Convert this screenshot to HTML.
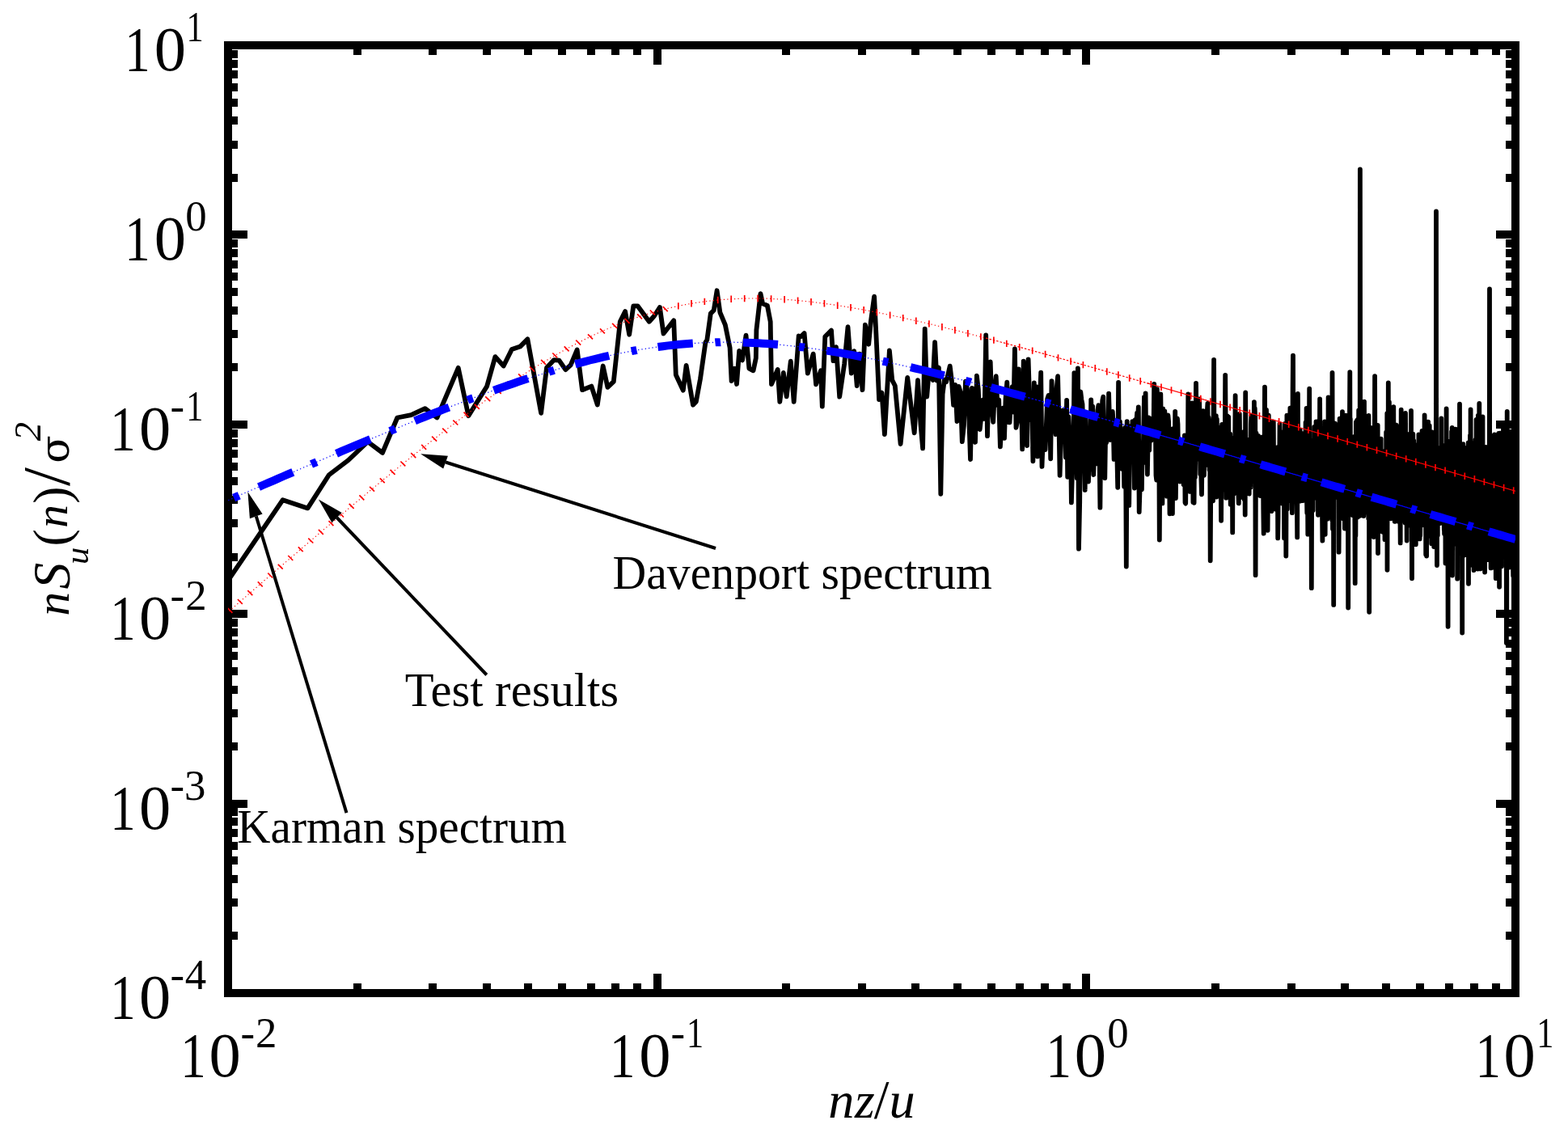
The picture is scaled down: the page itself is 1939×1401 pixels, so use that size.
<!DOCTYPE html>
<html><head><meta charset="utf-8"><title>Spectrum</title><style>html,body{margin:0;padding:0;background:#fff;overflow:hidden}svg{display:block}</style></head><body><svg width="1939" height="1401" viewBox="0 0 1939 1401">
<rect width="1939" height="1401" fill="#fff"/>
<defs><clipPath id="pa"><rect x="282.0" y="56.0" width="1592.0" height="1172.0"/></clipPath></defs>
<rect x="282.0" y="56.0" width="1592.0" height="1172.0" fill="none" stroke="#000" stroke-width="10" shape-rendering="crispEdges"/>
<path d="M441.7 1228L441.7 1216M441.7 56L441.7 68M535.2 1228L535.2 1216M535.2 56L535.2 68M601.5 1228L601.5 1216M601.5 56L601.5 68M652.9 1228L652.9 1216M652.9 56L652.9 68M694.9 1228L694.9 1216M694.9 56L694.9 68M730.5 1228L730.5 1216M730.5 56L730.5 68M761.2 1228L761.2 1216M761.2 56L761.2 68M788.4 1228L788.4 1216M788.4 56L788.4 68M812.7 1228L812.7 1204M812.7 56L812.7 80M972.4 1228L972.4 1216M972.4 56L972.4 68M1065.9 1228L1065.9 1216M1065.9 56L1065.9 68M1132.2 1228L1132.2 1216M1132.2 56L1132.2 68M1183.6 1228L1183.6 1216M1183.6 56L1183.6 68M1225.6 1228L1225.6 1216M1225.6 56L1225.6 68M1261.1 1228L1261.1 1216M1261.1 56L1261.1 68M1291.9 1228L1291.9 1216M1291.9 56L1291.9 68M1319.1 1228L1319.1 1216M1319.1 56L1319.1 68M1343.3 1228L1343.3 1204M1343.3 56L1343.3 80M1503.1 1228L1503.1 1216M1503.1 56L1503.1 68M1596.5 1228L1596.5 1216M1596.5 56L1596.5 68M1662.8 1228L1662.8 1216M1662.8 56L1662.8 68M1714.3 1228L1714.3 1216M1714.3 56L1714.3 68M1756.3 1228L1756.3 1216M1756.3 56L1756.3 68M1791.8 1228L1791.8 1216M1791.8 56L1791.8 68M1822.6 1228L1822.6 1216M1822.6 56L1822.6 68M1849.7 1228L1849.7 1216M1849.7 56L1849.7 68M282 1157.4L294 1157.4M1874 1157.4L1862 1157.4M282 1116.2L294 1116.2M1874 1116.2L1862 1116.2M282 1086.9L294 1086.9M1874 1086.9L1862 1086.9M282 1064.2L294 1064.2M1874 1064.2L1862 1064.2M282 1045.6L294 1045.6M1874 1045.6L1862 1045.6M282 1029.9L294 1029.9M1874 1029.9L1862 1029.9M282 1016.3L294 1016.3M1874 1016.3L1862 1016.3M282 1004.3L294 1004.3M1874 1004.3L1862 1004.3M282 993.6L306 993.6M1874 993.6L1850 993.6M282 923L294 923M1874 923L1862 923M282 881.8L294 881.8M1874 881.8L1862 881.8M282 852.5L294 852.5M1874 852.5L1862 852.5M282 829.8L294 829.8M1874 829.8L1862 829.8M282 811.2L294 811.2M1874 811.2L1862 811.2M282 795.5L294 795.5M1874 795.5L1862 795.5M282 781.9L294 781.9M1874 781.9L1862 781.9M282 769.9L294 769.9M1874 769.9L1862 769.9M282 759.2L306 759.2M1874 759.2L1850 759.2M282 688.6L294 688.6M1874 688.6L1862 688.6M282 647.4L294 647.4M1874 647.4L1862 647.4M282 618.1L294 618.1M1874 618.1L1862 618.1M282 595.4L294 595.4M1874 595.4L1862 595.4M282 576.8L294 576.8M1874 576.8L1862 576.8M282 561.1L294 561.1M1874 561.1L1862 561.1M282 547.5L294 547.5M1874 547.5L1862 547.5M282 535.5L294 535.5M1874 535.5L1862 535.5M282 524.8L306 524.8M1874 524.8L1850 524.8M282 454.2L294 454.2M1874 454.2L1862 454.2M282 413L294 413M1874 413L1862 413M282 383.7L294 383.7M1874 383.7L1862 383.7M282 361L294 361M1874 361L1862 361M282 342.4L294 342.4M1874 342.4L1862 342.4M282 326.7L294 326.7M1874 326.7L1862 326.7M282 313.1L294 313.1M1874 313.1L1862 313.1M282 301.1L294 301.1M1874 301.1L1862 301.1M282 290.4L306 290.4M1874 290.4L1850 290.4M282 219.8L294 219.8M1874 219.8L1862 219.8M282 178.6L294 178.6M1874 178.6L1862 178.6M282 149.3L294 149.3M1874 149.3L1862 149.3M282 126.6L294 126.6M1874 126.6L1862 126.6M282 108L294 108M1874 108L1862 108M282 92.3L294 92.3M1874 92.3L1862 92.3M282 78.7L294 78.7M1874 78.7L1862 78.7M282 66.7L294 66.7M1874 66.7L1862 66.7" stroke="#000" stroke-width="10" fill="none" shape-rendering="crispEdges"/>
<g clip-path="url(#pa)"><path d="M272.4 732L314.4 670.2L349.7 618.2L380.5 628.4L406.8 587.3L430.8 569L454.8 546.2L473 559.9L491.3 516.5L508.4 513.1L525.6 505.1L540.4 516.5L566.7 454.8L579.3 514.2L602.1 477.7L612.4 441.1L622.7 452.5L632.9 432L643.2 428.6L652.4 419.4L669.1 510.8L676 454.8L685.1 445.1L691.4 445.7L699.4 457.1L705.7 451.4L713.7 432.5L720 482.2L731.4 477.6L738.8 500.5L745.7 452.5L751.4 478.8L758.8 471.9L766.8 397.7L773.1 385.1L778.2 413.7L783.3 378.3L788.5 378.3L802.8 397.7L809 390.8L815.9 380L820.5 412.5L833.2 396.3L835.8 463.4L844.8 482.7L848.6 451.8L857 500.7L860.8 496.8L866 468.5L872.4 423.5L874.3 420.3L878.8 387.6L882.7 383.7L886.6 359.3L890.4 386.3L896.8 401.7L902.6 430L904.6 471.1L908.4 455.7L911 475L914.2 433.8L918 445.4L922.5 414.6L926.4 455.7L931.5 458.3L934.8 442.8L935.4 408.1L940.5 363.1L943.1 375.3L948.9 377.9L952.7 397.8L954 475L961.7 457L964.3 496.8L968.8 460.8L972.7 490.4L977.8 446.7L981.7 496.8L987.7 415.4L990.3 416.2L994.6 412L998.8 461.6L1005.7 437.6L1009.1 475.3L1015.1 458.2L1016.8 502.7L1020.3 416.2L1028 408.5L1030.5 446.2L1034 429.1L1038.2 490.7L1044.2 449.6L1048.5 404.2L1052.8 461.6L1056.2 434.2L1059.7 477L1063.1 437.6L1066.5 482.2L1069.9 401.7L1074.2 425.7L1076.8 398.2L1081.1 366.6L1083.6 417.1L1087.1 494.2L1090.5 485.6L1093.9 537L1099.9 433.4L1103.3 470.2L1106.8 477L1113.6 549L1122.2 466.8L1130.7 535.3L1135 470.2L1138.5 525L1141.1 554.4L1143.7 406.7L1146.2 490.6L1148.7 459.6L1151.2 463.2L1153.7 470L1156.1 423.2L1158.5 470.7L1160.9 454.5L1163.3 610.8L1165.6 487.5L1167.9 469.7L1170.2 472.1L1172.5 462.3L1174.7 452.6L1176.9 470.7L1179.1 500.9L1181.3 475.8L1183.5 521L1185.6 477.9L1187.7 484.7L1189.8 546.1L1191.9 526.2L1194 471.7L1196 480.9L1198 507.9L1200 568L1202 480L1204 481.2L1206 546.8L1207.9 464.7L1209.8 481.3L1211.7 531L1213.6 513.4L1215.5 494.3L1217.4 517.9L1219.2 414.5L1221 539.1L1222.9 466.3L1224.7 447.3L1226.5 504.5L1228.2 521.9L1230 482.1L1231.7 465.2L1233.5 501.2L1235.2 494.2L1236.9 552.3L1238.6 526.4L1240.3 504.7L1242 541.9L1243.6 492.2L1245.3 472.6L1246.9 522.1L1248.5 522.4L1250.1 493.6L1251.7 478.2L1253.3 509.5L1254.9 431.3L1256.5 528.8L1258 521.2L1259.6 456.3L1261.1 504.9L1262.7 475.8L1264.2 555.4L1265.7 446.6L1267.2 478.3L1268.7 532.8L1270.1 551L1271.6 444.5L1273.1 491.5L1274.5 519L1276 489.1L1277.4 570.3L1278.8 473.4L1280.2 523.4L1281.6 478.2L1283 564.4L1284.4 507.9L1285.8 498.4L1287.2 460.6L1288.5 576.9L1289.9 540.1L1291.2 540.5L1292.6 556.2L1293.9 525L1295.2 493.2L1296.6 489L1297.9 489.3L1299.2 567.3L1300.5 471.1L1301.7 496.1L1303 504.3L1304.3 522.8L1305.6 537.2L1306.8 478.7L1308.1 465.2L1309.3 515.1L1310.6 587.8L1311.8 546.1L1313 524.8L1314.2 507.4L1315.5 528.6L1316.7 510.2L1317.9 565.4L1319.1 494.9L1320.2 589.8L1321.4 515.3L1322.6 540.5L1323.8 529.4L1324.9 621.4L1326.1 579.7L1327.2 579.9L1328.4 461.2L1329.5 510.8L1330.7 503.3L1331.8 591.1L1332.9 455.3L1334 678.7L1335.2 620.5L1336.3 484.5L1337.4 494.2L1338.5 499.7L1339.5 536.8L1340.6 549.3L1341.7 605.9L1342.8 518.5L1343.9 573.1L1344.9 531.1L1346 595.5L1347.1 555.1L1348.1 580.4L1349.2 494.4L1350.2 520.6L1351.2 502.6L1352.3 587L1353.3 553.4L1354.3 518.4L1355.3 514.4L1356.3 573.4L1357.4 507.5L1358.4 501.1L1359.4 548L1360.4 627.6L1361.4 522L1362.3 513.2L1363.3 495.2L1364.3 490.6L1365.3 551.4L1366.3 591.2L1367.2 531.3L1368.2 547.3L1369.1 536.1L1370.1 537.3L1371.1 486.7L1372 518.6L1372.9 544L1373.9 509.5L1374.8 518.8L1375.8 508.9L1376.7 523.6L1377.6 567.9L1378.5 521.9L1379.4 529.7L1380.4 567.1L1381.3 560.6L1382.2 602.8L1383.1 472.8L1384 569.8L1384.9 521.3L1385.8 541.4L1386.7 569.8L1387.5 579.8L1388.4 578.3L1389.3 543.2L1390.2 601.6L1391.1 528.9L1391.9 533.3L1392.8 700.6L1393.7 521.2L1394.5 624.1L1395.4 578.8L1396.2 624.9L1397.1 537.7L1397.9 526.9L1398.8 545.4L1399.6 568.1L1400.4 521.1L1401.3 554.3L1402.1 538.9L1402.9 603.5L1403.8 519.2L1404.6 581.2L1405.4 520L1406.2 510.3L1407 518.2L1407.8 503.4L1408.7 633.1L1409.5 606.6L1410.3 547.3L1411.1 565.6L1411.9 605.3L1412.6 551.9L1413.4 572.7L1414.2 532.9L1415 491L1415.8 571.6L1416.6 486.4L1417.4 569.8L1418.1 541.8L1418.9 586.5L1419.7 540.4L1420.4 516.5L1421.2 556.8L1422 525.1L1422.7 537.3L1423.5 544.9L1424.2 539.1L1425 537.4L1425.7 516.8L1426.5 537.7L1427.2 474.9L1428 539L1428.7 505.4L1429.5 587.8L1430.2 593.7L1430.9 481.2L1431.7 550.3L1432.4 540.7L1433.1 510.8L1433.8 667.5L1434.6 530.1L1435.3 487.4L1436 536.8L1436.7 540.8L1437.4 622.4L1438.1 505.3L1438.8 569.7L1439.6 574.5L1440.3 508.4L1441 524.6L1441.7 543.9L1442.4 527.9L1443.1 613.7L1443.7 554.9L1444.4 513.4L1445.1 520.9L1445.8 545.4L1446.5 635.3L1447.2 541.6L1447.9 552.6L1448.5 567.4L1449.2 546.6L1449.9 635.1L1450.6 530.2L1451.2 576.7L1451.9 601.5L1452.6 572.2L1453.2 508.8L1453.9 616L1454.6 544.8L1455.2 550.3L1455.9 517.3L1456.5 524.4L1457.2 570.8L1457.8 586.9L1458.5 578.2L1459.1 595.5L1459.8 576.9L1460.4 551.1L1461.1 581.7L1461.7 572.7L1462.4 546.9L1463 577.9L1463.6 599.1L1464.3 559.5L1464.9 538.5L1465.5 621.6L1466.2 622.6L1466.8 543.8L1467.4 548L1468 546.6L1468.7 597.4L1469.3 487.5L1469.9 565.4L1470.5 596.6L1471.1 523.5L1471.7 607.9L1472.4 572.2L1473 533L1473.6 560L1474.2 498.5L1474.8 532.7L1475.4 621L1476 521.3L1476.6 621.8L1477.2 550.2L1477.8 590.3L1478.4 554.9L1479 473.9L1479.6 533.2L1480.2 560.7L1480.8 512.8L1481.4 505.8L1481.9 567.5L1482.5 530.9L1483.1 493.5L1483.7 529.8L1484.3 586.3L1484.9 537.5L1485.4 591.3L1486 611.3L1486.6 556L1487.2 514.2L1487.7 508.1L1488.3 554.1L1488.9 587.8L1489.4 565.2L1490 575.9L1490.6 539.5L1491.1 566.7L1491.7 538.6L1492.3 544L1492.8 509L1493.4 498.9L1493.9 538.6L1494.5 515.9L1495.1 521.4L1495.6 581.1L1496.2 552.6L1496.7 693.3L1497.3 597.8L1497.8 533.6L1498.4 585.5L1498.9 570.1L1499.4 532L1500 619.3L1500.5 528.8L1501.1 444.8L1501.6 586.6L1502.1 534.9L1502.7 612L1503.2 533.8L1503.8 514.2L1504.3 614.5L1504.8 518.3L1505.3 565.6L1505.9 611.1L1506.4 562.6L1506.9 555.5L1507.5 562.3L1508 589.2L1508.5 528.7L1509 581.1L1509.5 580L1510.1 643.8L1510.6 546.6L1511.1 525L1511.6 586.1L1512.1 544.6L1512.6 605.3L1513.2 564.5L1513.7 602.1L1514.2 535.1L1514.7 556.5L1515.2 463.8L1515.7 526.6L1516.2 615.7L1516.7 534.6L1517.2 533.9L1517.7 514.4L1518.2 581.5L1518.7 567.1L1519.2 515.7L1519.7 584.9L1520.2 570.3L1520.7 588.2L1521.2 536.7L1521.7 623.7L1522.2 576L1522.7 556.9L1523.2 541.7L1523.7 552.2L1524.2 658.4L1524.6 551.5L1525.1 600.5L1525.6 582.7L1526.1 610.3L1526.6 591.3L1527.1 559.7L1527.6 489.2L1528 573L1528.5 590.7L1529 568.3L1529.5 582.7L1529.9 544.5L1530.4 548.1L1530.9 526.6L1531.4 611.6L1531.8 622.4L1532.3 544.1L1532.8 512L1533.3 557.3L1533.7 614.9L1534.2 579.9L1534.7 535.6L1535.1 614.6L1535.6 614.7L1536.1 598.7L1536.5 591.9L1537 605.1L1537.4 583.3L1537.9 591.7L1538.4 534L1538.8 617.7L1539.3 572.5L1539.7 636.5L1540.2 485.5L1540.6 589.6L1541.1 599.5L1541.6 551.3L1542 580.8L1542.5 591.4L1542.9 585.4L1543.4 544L1543.8 559.5L1544.3 601.3L1544.7 610.6L1545.1 568.7L1545.6 568L1546 572.5L1546.5 602.4L1546.9 524.6L1547.4 513.9L1547.8 570.1L1548.2 522.7L1548.7 543L1549.1 568.9L1549.6 583.1L1550 524.3L1550.4 594.6L1550.9 497.1L1551.3 585.6L1551.7 504.8L1552.2 516.7L1552.6 711.2L1553 550.7L1553.5 535.6L1553.9 549.3L1554.3 583.2L1554.8 564.7L1555.2 565.7L1555.6 604.4L1556 539L1556.5 548.6L1556.9 546.7L1557.3 608.7L1557.7 602.4L1558.1 613L1558.6 566.1L1559 561.4L1559.4 597.8L1559.8 552.2L1560.2 597.1L1560.7 593.4L1561.1 540.5L1561.5 564.7L1561.9 563.4L1562.3 629.4L1562.7 659.6L1563.1 564.3L1563.6 568.8L1564 478.6L1564.4 575.9L1564.8 568.2L1565.2 526.3L1565.6 596.4L1566 507L1566.4 560.3L1566.8 573.8L1567.2 519.7L1567.6 655.8L1568 606.3L1568.4 514.4L1568.8 513.6L1569.3 590.5L1569.7 568.1L1570.1 521.5L1570.5 557.8L1570.9 565.3L1571.2 564L1571.6 598.8L1572 583.3L1572.4 632.1L1572.8 618.3L1573.2 593.8L1573.6 607.9L1574 616.7L1574.4 605.3L1574.8 521.6L1575.2 600.5L1575.6 572.9L1576 627.3L1576.4 573.8L1576.8 589L1577.1 582.2L1577.5 629.7L1577.9 577L1578.3 560.1L1578.7 581.7L1579.1 553.5L1579.5 576.7L1579.8 570.8L1580.2 665.4L1580.6 638.7L1581 555.1L1581.4 572.6L1581.8 563.4L1582.1 595L1582.5 524.4L1582.9 543.9L1583.3 570.1L1583.6 590.9L1584 569.9L1584.4 551.9L1584.8 537.3L1585.1 589.9L1585.5 622.5L1585.9 583.4L1586.3 578.8L1586.6 587.8L1587 534.5L1587.4 559.9L1587.8 561.7L1588.1 665.6L1588.5 571.3L1588.9 523.8L1589.2 612L1589.6 631.9L1590 562.2L1590.3 687.5L1590.7 582.3L1591.1 600.4L1591.4 513.6L1591.8 629.4L1592.2 554.4L1592.5 617.3L1592.9 576.1L1593.2 557.7L1593.6 567.8L1594 604.8L1594.3 538.8L1594.7 558.5L1595 554.2L1595.4 504.6L1595.8 619.1L1596.1 594L1596.5 573.1L1596.8 614.5L1597.2 535.4L1597.5 571.1L1597.9 634.2L1598.3 608.3L1598.6 484.3L1599 439.6L1599.3 532.4L1599.7 617.4L1600 555.4L1600.4 565.8L1600.7 595.8L1601.1 538.9L1601.4 582.2L1601.8 602.3L1602.1 591.1L1602.5 588.7L1602.8 550.6L1603.2 592.9L1603.5 557.8L1603.9 620.5L1604.2 664.4L1604.5 545.2L1604.9 487L1605.2 558.1L1605.6 588.5L1605.9 611.9L1606.3 613L1606.6 543.8L1606.9 543.4L1607.3 619.7L1607.6 531.4L1608 613.6L1608.3 566.7L1608.6 602.5L1609 600.5L1609.3 603L1609.6 604.6L1610 535.9L1610.3 586.6L1610.7 576.8L1611 587.1L1611.3 619.1L1611.7 565.4L1612 547.5L1612.3 546.9L1612.7 564L1613 602.7L1613.3 543.5L1613.7 616.9L1614 586.9L1614.3 567.7L1614.6 522.5L1615 585.5L1615.3 601L1615.6 504.9L1616 618.4L1616.3 634.2L1616.6 589L1616.9 594.4L1617.3 660.7L1617.6 620L1617.9 540.7L1618.2 576.9L1618.6 571.2L1618.9 571.5L1619.2 480.7L1619.5 603.9L1619.9 551.7L1620.2 583.6L1620.5 572.4L1620.8 608.1L1621.1 566L1621.5 545.5L1621.8 727.2L1622.1 626.7L1622.4 565.2L1622.7 625.5L1623.1 587.5L1623.4 556.6L1623.7 631L1624 544.9L1624.3 613.5L1624.6 558.2L1625 594.2L1625.3 527.9L1625.6 544.3L1625.9 615.6L1626.2 585.4L1626.5 580.4L1626.8 560.9L1627.2 594.5L1627.5 521.5L1627.8 533L1628.1 572.8L1628.4 544.9L1628.7 550.4L1629 576.5L1629.3 573.8L1629.6 570.4L1630 636.8L1630.3 614.4L1630.6 621.9L1630.9 578.6L1631.2 558.9L1631.5 519.6L1631.8 565.5L1632.1 493.5L1632.4 555.8L1632.7 606.3L1633 635.7L1633.3 613.3L1633.6 544.5L1633.9 597.2L1634.2 547.6L1634.5 608.6L1634.8 575.8L1635.1 640.8L1635.4 668.6L1635.7 612.2L1636 660.5L1636.3 586.8L1636.6 567L1636.9 626.4L1637.2 639.8L1637.5 557.8L1637.8 583.6L1638.1 521.3L1638.4 572.7L1638.7 660.8L1639 577.6L1639.3 557.5L1639.6 522.6L1639.9 593.9L1640.2 608.6L1640.5 601.8L1640.8 590.2L1641.1 528.4L1641.4 641.7L1641.7 579.3L1642 575.6L1642.3 606.7L1642.6 491.4L1642.8 579.1L1643.1 576.2L1643.4 594.6L1643.7 627.9L1644 598.1L1644.3 505.4L1644.6 567.9L1644.9 589.2L1645.2 587.2L1645.5 528.6L1645.7 512.7L1646 601.1L1646.3 594.1L1646.6 581.6L1646.9 510.2L1647.2 643L1647.5 461L1647.8 567.4L1648 653.9L1648.3 576.1L1648.6 590.7L1648.9 533.4L1649.2 747.9L1649.5 528.7L1649.7 591.6L1650 587.6L1650.3 539L1650.6 613.3L1650.9 523.7L1651.2 554.6L1651.4 582.1L1651.7 566L1652 599.3L1652.3 614.9L1652.6 571.2L1652.8 560.8L1653.1 561.9L1653.4 568.3L1653.7 611.5L1653.9 574.7L1654.2 597.8L1654.5 580.1L1654.8 548.5L1655.1 613.4L1655.3 540.4L1655.6 682.7L1655.9 634.8L1656.2 538.3L1656.4 582L1656.7 517.6L1657 563L1657.3 521.5L1657.5 569.3L1657.8 561.9L1658.1 589.2L1658.4 638.6L1658.6 594.4L1658.9 607.2L1659.2 582.8L1659.4 574.6L1659.7 549.8L1660 509.1L1660.3 587.5L1660.5 640.6L1660.8 601.4L1661.1 562.7L1661.3 641.4L1661.6 567.1L1661.9 559.3L1662.1 534.3L1662.4 544.9L1662.7 575.2L1662.9 653.6L1663.2 577L1663.5 542.2L1663.7 560.2L1664 576.5L1664.3 513.6L1664.5 590.3L1664.8 609.9L1665.1 597L1665.3 606.6L1665.6 531.7L1665.9 514.4L1666.1 630L1666.4 623.6L1666.7 521.3L1666.9 593.5L1667.2 751.5L1667.4 605.1L1667.7 593.7L1668 565.4L1668.2 593.4L1668.5 592.1L1668.7 584.8L1669 508.5L1669.3 460.1L1669.5 553.5L1669.8 517.8L1670 595.7L1670.3 611.5L1670.6 596.2L1670.8 571.6L1671.1 589.7L1671.3 627.1L1671.6 556.5L1671.9 618.8L1672.1 611.6L1672.4 596.5L1672.6 637L1672.9 557.2L1673.1 619.8L1673.4 548.4L1673.6 555.3L1673.9 542.9L1674.2 603.1L1674.4 548.1L1674.7 589.8L1674.9 539.8L1675.2 624.4L1675.4 650.6L1675.7 721.2L1675.9 644.2L1676.2 607.4L1676.4 662.2L1676.7 591.8L1676.9 521.8L1677.2 639.2L1677.4 583.2L1677.7 544.6L1677.9 560.8L1678.2 519.6L1678.4 581.7L1678.7 543.3L1678.9 639.4L1679.2 611.6L1679.4 518.4L1679.7 524.9L1679.9 565L1680.2 507.3L1680.4 584.5L1680.7 587.4L1680.9 556.4L1681.2 566.1L1681.4 606.4L1681.7 637.8L1681.9 209.5L1682.2 590.7L1682.4 618.7L1682.7 558.2L1682.9 603.7L1683.1 548.9L1683.4 614.6L1683.6 537.1L1683.9 548.8L1684.1 589.6L1684.4 609L1684.6 528.8L1684.9 567.2L1685.1 594.8L1685.3 598L1685.6 554.5L1685.8 593.6L1686.1 579L1686.3 638.1L1686.5 609.4L1686.8 534L1687 496.6L1687.3 594L1687.5 630.8L1687.7 596.6L1688 620.7L1688.2 570.1L1688.5 532.6L1688.7 616.3L1688.9 594.3L1689.2 614.2L1689.4 532L1689.7 597.3L1689.9 564.4L1690.1 618.6L1690.4 566.4L1690.6 565.3L1690.8 566.3L1691.1 634.3L1691.3 592.4L1691.6 559L1691.8 547.8L1692 546.9L1692.3 641.3L1692.5 514L1692.7 555.3L1693 613.4L1693.2 756.8L1693.4 585.5L1693.7 618.6L1693.9 617.8L1694.1 625.5L1694.4 593.6L1694.6 648.4L1694.8 599.5L1695.1 644.8L1695.3 545.9L1695.5 624.9L1695.8 539.4L1696 529.2L1696.2 610.3L1696.5 558.2L1696.7 608.7L1696.9 548L1697.2 648.4L1697.4 594.2L1697.6 545.8L1697.8 600.1L1698.1 624.2L1698.3 561.7L1698.5 612L1698.8 664.1L1699 624.1L1699.2 594.4L1699.4 570.8L1699.7 614.5L1699.9 530.3L1700.1 465.1L1700.4 566.9L1700.6 549.2L1700.8 654.5L1701 600.1L1701.3 553.6L1701.5 546L1701.7 612.5L1701.9 560.5L1702.2 571.2L1702.4 592.4L1702.6 598.8L1702.8 599.2L1703.1 599.9L1703.3 640.4L1703.5 654L1703.7 525.8L1704 684L1704.2 600.8L1704.4 638.8L1704.6 565.4L1704.9 607.7L1705.1 604L1705.3 600.6L1705.5 625.8L1705.7 618.3L1706 554.3L1706.2 592.6L1706.4 621.8L1706.6 620.4L1706.9 583.3L1707.1 585.8L1707.3 591.3L1707.5 550.4L1707.7 542.6L1708 650.7L1708.2 581.1L1708.4 600.7L1708.6 566L1708.8 641.7L1709.1 657.2L1709.3 588.8L1709.5 615.2L1709.7 565.9L1709.9 657.8L1710.1 629.3L1710.4 562.3L1710.6 640.3L1710.8 610.2L1711 612L1711.2 610.2L1711.4 569.9L1711.7 575.5L1711.9 619.3L1712.1 596.4L1712.3 557.9L1712.5 667.2L1712.7 589.8L1713 574.7L1713.2 568.8L1713.4 621.8L1713.6 631.5L1713.8 606.7L1714 627.9L1714.2 534.3L1714.5 583L1714.7 578.8L1714.9 598.7L1715.1 615.1L1715.3 511.1L1715.5 704.8L1715.7 561.7L1715.9 610.3L1716.2 626.8L1716.4 627.6L1716.6 606.8L1716.8 473.4L1717 552.2L1717.2 624.4L1717.4 559.2L1717.6 553.4L1717.9 497.2L1718.1 639.9L1718.3 615.8L1718.5 560.2L1718.7 593.1L1718.9 594.4L1719.1 550.4L1719.3 586.8L1719.5 606.9L1719.7 617L1719.9 641.3L1720.2 599.2L1720.4 578.5L1720.6 611.9L1720.8 571.2L1721 544.3L1721.2 637.1L1721.4 582L1721.6 602.4L1721.8 620.4L1722 550.6L1722.2 620.2L1722.4 613.7L1722.6 594.4L1722.9 611.9L1723.1 565.9L1723.3 503.2L1723.5 586.5L1723.7 559.3L1723.9 628.2L1724.1 607.7L1724.3 575.9L1724.5 600.4L1724.7 644.8L1724.9 637.5L1725.1 611.4L1725.3 613.6L1725.5 587.1L1725.7 593.5L1725.9 619.1L1726.1 594.1L1726.3 609.3L1726.5 550.9L1726.7 526.9L1726.9 525.6L1727.1 580.4L1727.3 644.4L1727.5 639.6L1727.7 556.2L1727.9 532L1728.1 626.4L1728.3 615.2L1728.5 540.2L1728.7 635.5L1729 605.5L1729.2 644.7L1729.4 611.3L1729.6 630L1729.8 610.7L1730 558.5L1730.2 589.8L1730.4 570.5L1730.6 628.1L1730.7 556.8L1730.9 533.4L1731.1 623.2L1731.3 639L1731.5 649.6L1731.7 671.4L1731.9 534.7L1732.1 570L1732.3 576.5L1732.5 599.4L1732.7 506.7L1732.9 600L1733.1 609.7L1733.3 559.1L1733.5 604.4L1733.7 640.9L1733.9 602L1734.1 636.4L1734.3 635L1734.5 614.5L1734.7 613.7L1734.9 584.6L1735.1 642.9L1735.3 580.3L1735.5 570.5L1735.7 624.8L1735.9 569.3L1736.1 615.4L1736.3 636.9L1736.5 603.7L1736.6 604.6L1736.8 632.3L1737 626.8L1737.2 534.2L1737.4 544.2L1737.6 646.6L1737.8 614.6L1738 510.8L1738.2 542.8L1738.4 602.3L1738.6 559L1738.8 617.6L1739 604.3L1739.2 618.4L1739.3 551L1739.5 623L1739.7 668.5L1739.9 567.4L1740.1 646.7L1740.3 635.4L1740.5 624L1740.7 599.5L1740.9 551.7L1741.1 564.2L1741.3 628.3L1741.4 635.7L1741.6 644L1741.8 635.1L1742 633.2L1742.2 583.8L1742.4 550.1L1742.6 609.6L1742.8 619.7L1743 605.6L1743.2 536.6L1743.3 580.3L1743.5 538.5L1743.7 607.8L1743.9 557.3L1744.1 595.9L1744.3 614L1744.5 607.7L1744.7 649.6L1744.8 555.1L1745 508L1745.2 635.4L1745.4 651L1745.6 652L1745.8 613.1L1746 715.3L1746.2 607.7L1746.3 547.2L1746.5 578.9L1746.7 620.6L1746.9 578.7L1747.1 668.6L1747.3 536.7L1747.5 585.2L1747.6 641.6L1747.8 577.6L1748 554.7L1748.2 544.8L1748.4 572.5L1748.6 655.4L1748.7 618.1L1748.9 621.8L1749.1 581.8L1749.3 633L1749.5 608L1749.7 564.3L1749.8 584.9L1750 611.3L1750.2 644.3L1750.4 602.3L1750.6 621.6L1750.8 673.3L1750.9 570L1751.1 550.7L1751.3 638.2L1751.5 619.7L1751.7 600.9L1751.9 613.9L1752 590.8L1752.2 622.5L1752.4 590.6L1752.6 632.2L1752.8 554.1L1752.9 569.7L1753.1 609.1L1753.3 585L1753.5 628.9L1753.7 603.8L1753.8 581.9L1754 612.5L1754.2 582.6L1754.4 537.5L1754.6 556L1754.7 570.8L1754.9 585.4L1755.1 609L1755.3 636.7L1755.5 624.6L1755.6 666.4L1755.8 649.3L1756 598.1L1756.2 662.2L1756.4 646.3L1756.5 586.7L1756.7 616.8L1756.9 643.5L1757.1 614.5L1757.2 640.9L1757.4 619.8L1757.6 630.4L1757.8 593L1758 619.4L1758.1 591L1758.3 629.6L1758.5 532.9L1758.7 618.1L1758.8 649.3L1759 626.5L1759.2 605.9L1759.4 625.2L1759.5 570.2L1759.7 570.8L1759.9 591.6L1760.1 601L1760.2 639.9L1760.4 568.2L1760.6 641.2L1760.8 538.4L1760.9 573L1761.1 606L1761.3 646.7L1761.5 580.8L1761.6 513.5L1761.8 621.7L1762 606.5L1762.2 560.3L1762.3 562L1762.5 577.4L1762.7 611L1762.9 630.3L1763 543.1L1763.2 685.7L1763.4 606.5L1763.5 591.9L1763.7 630.8L1763.9 611.6L1764.1 687.5L1764.2 645.3L1764.4 592.2L1764.6 591.3L1764.8 586.6L1764.9 593.5L1765.1 631.1L1765.3 580.2L1765.4 663.3L1765.6 605.1L1765.8 602.4L1765.9 640.7L1766.1 521.6L1766.3 567.6L1766.5 628.9L1766.6 608.9L1766.8 608.2L1767 622.1L1767.1 582.5L1767.3 601.6L1767.5 549.1L1767.7 526.4L1767.8 652L1768 568.1L1768.2 577.7L1768.3 656.6L1768.5 645.1L1768.7 586.1L1768.8 586L1769 605.8L1769.2 567.3L1769.3 627.8L1769.5 614.1L1769.7 613.6L1769.8 634.9L1770 633.8L1770.2 672.2L1770.4 661.2L1770.5 534.2L1770.7 640.1L1770.9 560.4L1771 546.8L1771.2 633.8L1771.4 578.9L1771.5 596L1771.7 646.2L1771.9 580.8L1772 570.5L1772.2 620.9L1772.4 651.7L1772.5 627.9L1772.7 541.6L1772.9 581.5L1773 603.6L1773.2 676.1L1773.3 640.6L1773.5 639.2L1773.7 651.3L1773.8 596.9L1774 626.7L1774.2 627.1L1774.3 567.5L1774.5 609.8L1774.7 629.7L1774.8 563.1L1775 638.2L1775.2 636.5L1775.3 646L1775.5 576.7L1775.7 614.3L1775.8 660.5L1776 261.5L1776.1 576.3L1776.3 618.5L1776.5 659.5L1776.6 607.9L1776.8 624L1777 699L1777.1 609.7L1777.3 606.6L1777.5 566.9L1777.6 582.3L1777.8 662L1777.9 605.3L1778.1 558.9L1778.3 570.2L1778.4 611.4L1778.6 637.4L1778.7 578.5L1778.9 635.7L1779.1 589.9L1779.2 623.4L1779.4 629.1L1779.6 632.1L1779.7 592.3L1779.9 603.9L1780 628.6L1780.2 554L1780.4 617.1L1780.5 628.8L1780.7 647L1780.8 609.6L1781 603.1L1781.2 616L1781.3 578.7L1781.5 601.9L1781.6 625.1L1781.8 620.8L1782 564.8L1782.1 596.6L1782.3 517.3L1782.4 638.6L1782.6 587.5L1782.8 619.3L1782.9 562.2L1783.1 607.3L1783.2 626.4L1783.4 644.8L1783.5 550.5L1783.7 640L1783.9 603.6L1784 576.5L1784.2 627.4L1784.3 597.8L1784.5 597.8L1784.7 579.7L1784.8 618.8L1785 612.4L1785.1 603.2L1785.3 568.5L1785.4 588.3L1785.6 625L1785.8 655.2L1785.9 609.9L1786.1 660L1786.2 610.7L1786.4 562.7L1786.5 633.1L1786.7 568.3L1786.8 625.3L1787 648.4L1787.2 597.7L1787.3 607.5L1787.5 696.6L1787.6 619.9L1787.8 620.8L1787.9 638.7L1788.1 607.3L1788.2 607.7L1788.4 625L1788.6 505.5L1788.7 660.7L1788.9 564.4L1789 564L1789.2 630.7L1789.3 613.1L1789.5 556.5L1789.6 619.5L1789.8 561.4L1789.9 581.2L1790.1 545.4L1790.3 575.5L1790.4 626.1L1790.6 774.8L1790.7 623.2L1790.9 644.3L1791 610.5L1791.2 583.1L1791.3 600.1L1791.5 669.5L1791.6 613.9L1791.8 623.8L1791.9 608.4L1792.1 621.3L1792.2 627.8L1792.4 612.4L1792.6 605.9L1792.7 578.1L1792.9 575.3L1793 627.1L1793.2 638.9L1793.3 645L1793.5 710.3L1793.6 576.4L1793.8 635L1793.9 634.6L1794.1 546.3L1794.2 641.1L1794.4 633.5L1794.5 671L1794.7 563.2L1794.8 556.4L1795 640.7L1795.1 533.6L1795.3 581L1795.4 565L1795.6 568.6L1795.7 528.9L1795.9 603.2L1796 711.6L1796.2 629.2L1796.3 629.4L1796.5 598.1L1796.6 664.1L1796.8 632.4L1796.9 650.5L1797.1 545.3L1797.2 626.3L1797.4 563.5L1797.5 626.6L1797.7 621.4L1797.8 564.4L1798 620.8L1798.1 654.8L1798.3 632.1L1798.4 635.3L1798.6 576.5L1798.7 584.8L1798.9 565.6L1799 619.7L1799.2 656.3L1799.3 630.3L1799.5 615.2L1799.6 565.5L1799.7 630.7L1799.9 604.8L1800 530.7L1800.2 538.6L1800.3 600.5L1800.5 575.8L1800.6 672.7L1800.8 616.9L1800.9 569.6L1801.1 594.1L1801.2 670.9L1801.4 573.7L1801.5 642.6L1801.7 631.1L1801.8 666.8L1802 634.4L1802.1 598.3L1802.2 715.7L1802.4 618.5L1802.5 649.9L1802.7 613.6L1802.8 684.8L1803 612L1803.1 631.7L1803.3 587.4L1803.4 621L1803.6 617.6L1803.7 622.6L1803.8 648L1804 593.1L1804.1 579.3L1804.3 655.3L1804.4 604.4L1804.6 587.4L1804.7 657L1804.9 644.1L1805 499.6L1805.1 600.6L1805.3 644.5L1805.4 646.3L1805.6 594.8L1805.7 671.6L1805.9 582.4L1806 607.5L1806.2 622.1L1806.3 617.6L1806.4 645.7L1806.6 653.2L1806.7 616.1L1806.9 666.4L1807 587.7L1807.2 608.8L1807.3 677.7L1807.4 621.6L1807.6 655.2L1807.7 599.4L1807.9 606.8L1808 614L1808.2 782.5L1808.3 603.8L1808.4 619.2L1808.6 641.9L1808.7 660.5L1808.9 622.6L1809 641.3L1809.1 650.5L1809.3 571.3L1809.4 549.2L1809.6 675L1809.7 664.8L1809.9 621.1L1810 631.3L1810.1 577.5L1810.3 557.9L1810.4 630.2L1810.6 553.3L1810.7 651L1810.8 589.3L1811 629.5L1811.1 686.5L1811.3 684.9L1811.4 607.7L1811.5 656.5L1811.7 573.8L1811.8 593.7L1812 632.4L1812.1 667.7L1812.2 594.3L1812.4 638.4L1812.5 623.2L1812.7 563.6L1812.8 614L1812.9 671.8L1813.1 615.9L1813.2 637.2L1813.4 648.6L1813.5 587.2L1813.6 662.7L1813.8 672.1L1813.9 675.5L1814.1 665.6L1814.2 599.4L1814.3 594L1814.5 585.1L1814.6 579.7L1814.7 584.7L1814.9 654.6L1815 671L1815.2 591.7L1815.3 648.4L1815.4 563.7L1815.6 605.8L1815.7 575.8L1815.8 547.4L1816 721.8L1816.1 622.9L1816.3 602.1L1816.4 596.9L1816.5 576.2L1816.7 614.5L1816.8 593.5L1816.9 628.7L1817.1 566.3L1817.2 628.2L1817.4 638.1L1817.5 663.7L1817.6 657L1817.8 627L1817.9 589.8L1818 538.3L1818.2 620.2L1818.3 669.8L1818.4 678.4L1818.6 506.4L1818.7 586.6L1818.9 604.9L1819 573.9L1819.1 627.1L1819.3 622L1819.4 597.5L1819.5 619.1L1819.7 549.2L1819.8 577.1L1819.9 580.5L1820.1 652.2L1820.2 547.7L1820.3 611.3L1820.5 648.1L1820.6 618.5L1820.8 649.3L1820.9 591.7L1821 636.2L1821.2 652.7L1821.3 699.2L1821.4 646.6L1821.6 671.2L1821.7 621.6L1821.8 624.7L1822 676.3L1822.1 641.8L1822.2 671.2L1822.4 646.4L1822.5 695.9L1822.6 705.1L1822.8 584.2L1822.9 686.9L1823 637.1L1823.2 638.6L1823.3 617L1823.4 647.2L1823.6 572.2L1823.7 589.6L1823.8 588L1824 632.5L1824.1 654.7L1824.2 648.3L1824.4 635.4L1824.5 596.1L1824.6 543.6L1824.8 636.9L1824.9 627.9L1825 635.3L1825.2 672.9L1825.3 615L1825.4 614.1L1825.6 518.8L1825.7 642.6L1825.8 621.1L1825.9 590L1826.1 636.6L1826.2 576.3L1826.3 599L1826.5 692.1L1826.6 649.6L1826.7 655.8L1826.9 649.6L1827 645.9L1827.1 630.1L1827.3 703.6L1827.4 620.3L1827.5 649.2L1827.7 613.8L1827.8 607.8L1827.9 513.6L1828 536.8L1828.2 677.8L1828.3 675.8L1828.4 604L1828.6 622.2L1828.7 645L1828.8 578.8L1829 685.7L1829.1 576.7L1829.2 591.2L1829.3 498.9L1829.5 676.8L1829.6 625.6L1829.7 680.6L1829.9 578.5L1830 635.5L1830.1 626.3L1830.3 630.7L1830.4 696.7L1830.5 703.4L1830.6 672.2L1830.8 605.8L1830.9 655.2L1831 671.1L1831.2 643.5L1831.3 643.9L1831.4 640.8L1831.5 583.3L1831.7 632.5L1831.8 680.4L1831.9 579.1L1832.1 626.9L1832.2 653.4L1832.3 562.4L1832.4 617.9L1832.6 547.4L1832.7 596.8L1832.8 560.6L1833 583.7L1833.1 602L1833.2 611.7L1833.3 614.9L1833.5 515.3L1833.6 680.1L1833.7 611.7L1833.8 574.6L1834 595.7L1834.1 635.1L1834.2 578.8L1834.4 605.5L1834.5 602.9L1834.6 643.2L1834.7 590.4L1834.9 640.3L1835 636.6L1835.1 617.6L1835.2 668.1L1835.4 625.1L1835.5 571.2L1835.6 635L1835.7 628.9L1835.9 622.7L1836 632.8L1836.1 707.5L1836.2 632.9L1836.4 640.8L1836.5 613.5L1836.6 671L1836.8 622.2L1836.9 588.5L1837 569.5L1837.1 643.5L1837.3 651.2L1837.4 553L1837.5 592.2L1837.6 647.6L1837.8 661.3L1837.9 565.2L1838 606.6L1838.1 654.5L1838.3 600.9L1838.4 604.7L1838.5 600.7L1838.6 566L1838.8 626.9L1838.9 636L1839 561.7L1839.1 628.8L1839.3 664.5L1839.4 632.7L1839.5 658.9L1839.6 600.5L1839.8 673.8L1839.9 589.8L1840 692.1L1840.1 605.2L1840.2 593L1840.4 585.1L1840.5 606.9L1840.6 603.3L1840.7 594.4L1840.9 610.8L1841 649.2L1841.1 657L1841.2 610.5L1841.4 669.5L1841.5 580.6L1841.6 579.2L1841.7 574.6L1841.8 647.2L1842 357.5L1842.1 562.6L1842.2 671.2L1842.3 686.6L1842.5 673.6L1842.6 558.3L1842.7 626.5L1842.8 655.5L1843 629.5L1843.1 552.6L1843.2 610.6L1843.3 549L1843.4 570.2L1843.6 702.4L1843.7 650.3L1843.8 559.6L1843.9 558.1L1844.1 642.5L1844.2 598.6L1844.3 646.8L1844.4 596.9L1844.5 617.2L1844.7 634.9L1844.8 579.4L1844.9 539.2L1845 572.2L1845.1 594.7L1845.3 617.1L1845.4 623.7L1845.5 623.4L1845.6 644.8L1845.8 585.9L1845.9 676L1846 697.6L1846.1 639.6L1846.2 633.3L1846.4 670.9L1846.5 649.7L1846.6 633.4L1846.7 619L1846.8 593L1847 573.5L1847.1 650.4L1847.2 669L1847.3 578.7L1847.4 623.5L1847.6 634.7L1847.7 607.5L1847.8 592.2L1847.9 609L1848 537.3L1848.2 624.1L1848.3 613.6L1848.4 702.2L1848.5 660.4L1848.6 611.3L1848.8 626.7L1848.9 688.1L1849 684.2L1849.1 633.8L1849.2 621.3L1849.3 561.4L1849.5 612.3L1849.6 619.5L1849.7 593.8L1849.8 715.2L1849.9 542L1850.1 621.2L1850.2 642L1850.3 643.1L1850.4 687.5L1850.5 563.8L1850.7 593.4L1850.8 631.1L1850.9 632.4L1851 610L1851.1 592.8L1851.2 665.9L1851.4 579.9L1851.5 601.5L1851.6 678.9L1851.7 689.5L1851.8 658.9L1852 588.6L1852.1 589L1852.2 586.9L1852.3 576.2L1852.4 609L1852.5 673.3L1852.7 636L1852.8 593.5L1852.9 592.5L1853 574.4L1853.1 671.1L1853.2 536L1853.4 637.9L1853.5 562.4L1853.6 579.7L1853.7 560.1L1853.8 662.4L1853.9 624.2L1854.1 725.8L1854.2 580.6L1854.3 578L1854.4 649.2L1854.5 648.2L1854.6 615L1854.8 535.7L1854.9 679.6L1855 648.4L1855.1 642.3L1855.2 600.7L1855.3 650.9L1855.5 602.2L1855.6 629.6L1855.7 619.1L1855.8 672.8L1855.9 606.2L1856 611.8L1856.1 667.4L1856.3 636.1L1856.4 626.6L1856.5 616.5L1856.6 661.9L1856.7 597.8L1856.8 644.8L1857 700.3L1857.1 642.2L1857.2 591.6L1857.3 572.6L1857.4 633.2L1857.5 571.4L1857.6 554.7L1857.8 592.8L1857.9 577.4L1858 659.2L1858.1 561.1L1858.2 684.4L1858.3 593L1858.4 632.2L1858.6 651.9L1858.7 635.9L1858.8 653.7L1858.9 582.2L1859 523.5L1859.1 618.1L1859.2 550.4L1859.4 600.7L1859.5 661.6L1859.6 618.1L1859.7 600.1L1859.8 575.5L1859.9 613.8L1860 619.2L1860.2 554.8L1860.3 638.4L1860.4 578L1860.5 635.7L1860.6 606.5L1860.7 663.3L1860.8 658.5L1861 627.6L1861.1 622.3L1861.2 643.7L1861.3 677.6L1861.4 666.4L1861.5 634.2L1861.6 640L1861.7 685.2L1861.9 553.6L1862 648.4L1862.1 587.4L1862.2 677.7L1862.3 606.4L1862.4 624L1862.5 579.6L1862.6 630.2L1862.8 658.4L1862.9 795L1863 572.2L1863.1 609.9L1863.2 770.3L1863.3 664.4L1863.4 630.3L1863.5 649.7L1863.7 508.9L1863.8 688.9L1863.9 636.9L1864 565.5L1864.1 673.2L1864.2 602.6L1864.3 584.4L1864.4 670.9L1864.5 646L1864.7 610.7L1864.8 628.4L1864.9 570.3L1865 565.6L1865.1 664.1L1865.2 679.1L1865.3 647.4L1865.4 645.4L1865.5 613.9L1865.7 626.1L1865.8 589.2L1865.9 695L1866 606.2L1866.1 646.9L1866.2 632.2L1866.3 568.1L1866.4 701.6L1866.5 615.1L1866.7 597.1L1866.8 636.5L1866.9 591.3L1867 633.5L1867.1 588.5L1867.2 652.7L1867.3 634.5L1867.4 569.9L1867.5 669.7L1867.6 639.5L1867.8 582.1L1867.9 645.6L1868 648.2L1868.1 699.5L1868.2 593.3L1868.3 663.6L1868.4 628.7L1868.5 655.1L1868.6 621.1L1868.7 630.5L1868.8 651L1869 578.7L1869.1 536.8L1869.2 633L1869.3 613L1869.4 636.5L1869.5 656.5L1869.6 623.7L1869.7 676.5L1869.8 632L1869.9 637.9L1870 663.8L1870.2 655.1L1870.3 630.3L1870.4 638.7L1870.5 599.7L1870.6 606.3L1870.7 638.1L1870.8 663.7L1870.9 614.8L1871 664.7L1871.1 704.4L1871.2 711.9L1871.3 635.8L1871.5 672.8L1871.6 657L1871.7 663.4L1871.8 665.3L1871.9 654.1L1872 665.1L1872.1 642.3L1872.2 624.1L1872.3 644.7L1872.4 653.4L1872.5 679.7L1872.6 649.1L1872.8 662.5L1872.9 725.5L1873 593.5L1873.1 624.4L1873.2 655.4L1873.3 636.9L1873.4 589.9L1873.5 671.6L1873.6 633.3L1873.7 590.6L1873.8 704.2L1873.9 577.6L1874 635.6L1874.1 605.7L1874.3 640L1874.4 656.4L1874.5 599L1874.6 631.8L1874.7 630.6L1874.8 590.4L1874.9 678.1L1875 642.3L1875.1 623.3L1875.2 606L1875.3 621.2L1875.4 641.3L1875.5 615.4L1875.6 681.2L1875.7 519.5L1875.8 538.1L1876 624.9L1876.1 551.8L1876.2 633.6L1876.3 606.5L1876.4 657.3L1876.5 651.3L1876.6 683.5L1876.7 669.6L1876.8 681.7L1876.9 655.6L1877 675L1877.1 654.6L1877.2 609.9L1877.3 579.5L1877.4 581.4L1877.5 654.1L1877.6 527.3L1877.7 643.1L1877.9 602.6L1878 663.3L1878.1 644" fill="none" stroke="#000" stroke-width="5.8" stroke-linejoin="round" stroke-linecap="round"/><path d="M270.2 767.2L271.3 766.2L272.5 765.2L273.6 764.2L274.8 763.2L276 762.1L277.1 761.1L278.3 760.1L279.4 759.1L280.6 758.1L281.7 757.1L282.9 756.1L284 755.1L285.2 754.1L286.3 753.1L287.5 752.1L288.6 751.1L289.8 750.1L291 749.1L292.1 748.1L293.3 747.1L294.4 746.1L295.6 745.1L296.7 744.1L297.9 743.1L299 742.1L300.2 741L301.3 740L302.5 739L303.7 738L304.8 737L306 736L307.1 735L308.3 734L309.4 733L310.6 732L311.7 731L312.9 730L314 729L315.2 728L316.4 727L317.5 726L318.7 725L319.8 724L321 723L322.1 722L323.3 721L324.4 720L325.6 719L326.7 718L327.9 717L329.1 716L330.2 715L331.4 714L332.5 713L333.7 712L334.8 711L336 710L337.1 709L338.3 708L339.4 707L340.6 706.1L341.8 705.1L342.9 704.1L344.1 703.1L345.2 702.1L346.4 701.1L347.5 700.1L348.7 699.1L349.8 698.1L351 697.1L352.1 696.1L353.3 695.1L354.5 694.1L355.6 693.1L356.8 692.1L357.9 691.1L359.1 690.1L360.2 689.2L361.4 688.2L362.5 687.2L363.7 686.2L364.8 685.2L366 684.2L367.2 683.2L368.3 682.2L369.5 681.2L370.6 680.2L371.8 679.2L372.9 678.3L374.1 677.3L375.2 676.3L376.4 675.3L377.5 674.3L378.7 673.3L379.9 672.3L381 671.3L382.2 670.4L383.3 669.4L384.5 668.4L385.6 667.4L386.8 666.4L387.9 665.4L389.1 664.4L390.2 663.5L391.4 662.5L392.5 661.5L393.7 660.5L394.9 659.5L396 658.5L397.2 657.6L398.3 656.6L399.5 655.6L400.6 654.6L401.8 653.6L402.9 652.7L404.1 651.7L405.2 650.7L406.4 649.7L407.6 648.7L408.7 647.8L409.9 646.8L411 645.8L412.2 644.8L413.3 643.9L414.5 642.9L415.6 641.9L416.8 640.9L417.9 640L419.1 639L420.3 638L421.4 637L422.6 636.1L423.7 635.1L424.9 634.1L426 633.1L427.2 632.2L428.3 631.2L429.5 630.2L430.6 629.3L431.8 628.3L433 627.3L434.1 626.4L435.3 625.4L436.4 624.4L437.6 623.5L438.7 622.5L439.9 621.5L441 620.6L442.2 619.6L443.3 618.6L444.5 617.7L445.7 616.7L446.8 615.7L448 614.8L449.1 613.8L450.3 612.9L451.4 611.9L452.6 610.9L453.7 610L454.9 609L456 608.1L457.2 607.1L458.4 606.1L459.5 605.2L460.7 604.2L461.8 603.3L463 602.3L464.1 601.4L465.3 600.4L466.4 599.5L467.6 598.5L468.7 597.6L469.9 596.6L471.1 595.7L472.2 594.7L473.4 593.8L474.5 592.8L475.7 591.9L476.8 590.9L478 590L479.1 589L480.3 588.1L481.4 587.2L482.6 586.2L483.8 585.3L484.9 584.3L486.1 583.4L487.2 582.4L488.4 581.5L489.5 580.6L490.7 579.6L491.8 578.7L493 577.8L494.1 576.8L495.3 575.9L496.4 575L497.6 574L498.8 573.1L499.9 572.2L501.1 571.2L502.2 570.3L503.4 569.4L504.5 568.4L505.7 567.5L506.8 566.6L508 565.7L509.1 564.7L510.3 563.8L511.5 562.9L512.6 562L513.8 561.1L514.9 560.1L516.1 559.2L517.2 558.3L518.4 557.4L519.5 556.5L520.7 555.6L521.8 554.6L523 553.7L524.2 552.8L525.3 551.9L526.5 551L527.6 550.1L528.8 549.2L529.9 548.3L531.1 547.4L532.2 546.5L533.4 545.6L534.5 544.7L535.7 543.8L536.9 542.9L538 542L539.2 541.1L540.3 540.2L541.5 539.3L542.6 538.4L543.8 537.5L544.9 536.6L546.1 535.7L547.2 534.8L548.4 533.9L549.6 533L550.7 532.1L551.9 531.3L553 530.4L554.2 529.5L555.3 528.6L556.5 527.7L557.6 526.8L558.8 526L559.9 525.1L561.1 524.2L562.3 523.3L563.4 522.5L564.6 521.6L565.7 520.7L566.9 519.9L568 519L569.2 518.1L570.3 517.3L571.5 516.4L572.6 515.5L573.8 514.7L575 513.8L576.1 513L577.3 512.1L578.4 511.2L579.6 510.4L580.7 509.5L581.9 508.7L583 507.8L584.2 507L585.3 506.1L586.5 505.3L587.7 504.5L588.8 503.6L590 502.8L591.1 501.9L592.3 501.1L593.4 500.3L594.6 499.4L595.7 498.6L596.9 497.8L598 496.9L599.2 496.1L600.3 495.3L601.5 494.5L602.7 493.7L603.8 492.8L605 492L606.1 491.2L607.3 490.4L608.4 489.6L609.6 488.8L610.7 487.9L611.9 487.1L613 486.3L614.2 485.5L615.4 484.7L616.5 483.9L617.7 483.1L618.8 482.3L620 481.5L621.1 480.7L622.3 480L623.4 479.2L624.6 478.4L625.7 477.6L626.9 476.8L628.1 476L629.2 475.2L630.4 474.5L631.5 473.7L632.7 472.9L633.8 472.2L635 471.4L636.1 470.6L637.3 469.8L638.4 469.1L639.6 468.3L640.8 467.6L641.9 466.8L643.1 466.1L644.2 465.3L645.4 464.6L646.5 463.8L647.7 463.1L648.8 462.3L650 461.6L651.1 460.8L652.3 460.1L653.5 459.4L654.6 458.6L655.8 457.9L656.9 457.2L658.1 456.4L659.2 455.7L660.4 455L661.5 454.3L662.7 453.6L663.8 452.9L665 452.1L666.2 451.4L667.3 450.7L668.5 450L669.6 449.3L670.8 448.6L671.9 447.9L673.1 447.2L674.2 446.5L675.4 445.8L676.5 445.2L677.7 444.5L678.9 443.8L680 443.1L681.2 442.4L682.3 441.8L683.5 441.1L684.6 440.4L685.8 439.8L686.9 439.1L688.1 438.4L689.2 437.8L690.4 437.1L691.6 436.5L692.7 435.8L693.9 435.2L695 434.5L696.2 433.9L697.3 433.2L698.5 432.6L699.6 432L700.8 431.3L701.9 430.7L703.1 430.1L704.2 429.5L705.4 428.8L706.6 428.2L707.7 427.6L708.9 427L710 426.4L711.2 425.8L712.3 425.2L713.5 424.6L714.6 424L715.8 423.4L716.9 422.8L718.1 422.2L719.3 421.6L720.4 421L721.6 420.4L722.7 419.9L723.9 419.3L725 418.7L726.2 418.2L727.3 417.6L728.5 417L729.6 416.5L730.8 415.9L732 415.4L733.1 414.8L734.3 414.3L735.4 413.7L736.6 413.2L737.7 412.7L738.9 412.1L740 411.6L741.2 411.1L742.3 410.5L743.5 410L744.7 409.5L745.8 409L747 408.5L748.1 408L749.3 407.5L750.4 407L751.6 406.5L752.7 406L753.9 405.5L755 405L756.2 404.5L757.4 404L758.5 403.5L759.7 403.1L760.8 402.6L762 402.1L763.1 401.6L764.3 401.2L765.4 400.7L766.6 400.3L767.7 399.8L768.9 399.4L770.1 398.9L771.2 398.5L772.4 398L773.5 397.6L774.7 397.2L775.8 396.7L777 396.3L778.1 395.9L779.3 395.5L780.4 395.1L781.6 394.6L782.8 394.2L783.9 393.8L785.1 393.4L786.2 393L787.4 392.6L788.5 392.2L789.7 391.8L790.8 391.5L792 391.1L793.1 390.7L794.3 390.3L795.5 389.9L796.6 389.6L797.8 389.2L798.9 388.9L800.1 388.5L801.2 388.1L802.4 387.8L803.5 387.4L804.7 387.1L805.8 386.8L807 386.4L808.1 386.1L809.3 385.7L810.5 385.4L811.6 385.1L812.8 384.8L813.9 384.5L815.1 384.1L816.2 383.8L817.4 383.5L818.5 383.2L819.7 382.9L820.8 382.6L822 382.3L823.2 382L824.3 381.7L825.5 381.5L826.6 381.2L827.8 380.9L828.9 380.6L830.1 380.4L831.2 380.1L832.4 379.8L833.5 379.6L834.7 379.3L835.9 379.1L837 378.8L838.2 378.6L839.3 378.3L840.5 378.1L841.6 377.8L842.8 377.6L843.9 377.4L845.1 377.1L846.2 376.9L847.4 376.7L848.6 376.5L849.7 376.3L850.9 376.1L852 375.9L853.2 375.7L854.3 375.5L855.5 375.3L856.6 375.1L857.8 374.9L858.9 374.7L860.1 374.5L861.3 374.3L862.4 374.1L863.6 374L864.7 373.8L865.9 373.6L867 373.5L868.2 373.3L869.3 373.1L870.5 373L871.6 372.8L872.8 372.7L874 372.5L875.1 372.4L876.3 372.3L877.4 372.1L878.6 372L879.7 371.8L880.9 371.7L882 371.6L883.2 371.5L884.3 371.4L885.5 371.2L886.7 371.1L887.8 371L889 370.9L890.1 370.8L891.3 370.7L892.4 370.6L893.6 370.5L894.7 370.4L895.9 370.3L897 370.3L898.2 370.2L899.4 370.1L900.5 370L901.7 369.9L902.8 369.9L904 369.8L905.1 369.7L906.3 369.7L907.4 369.6L908.6 369.6L909.7 369.5L910.9 369.5L912 369.4L913.2 369.4L914.4 369.3L915.5 369.3L916.7 369.2L917.8 369.2L919 369.2L920.1 369.1L921.3 369.1L922.4 369.1L923.6 369.1L924.7 369L925.9 369L927.1 369L928.2 369L929.4 369L930.5 369L931.7 369L932.8 369L934 369L935.1 369L936.3 369L937.4 369L938.6 369L939.8 369L940.9 369.1L942.1 369.1L943.2 369.1L944.4 369.1L945.5 369.2L946.7 369.2L947.8 369.2L949 369.2L950.1 369.3L951.3 369.3L952.5 369.4L953.6 369.4L954.8 369.5L955.9 369.5L957.1 369.6L958.2 369.6L959.4 369.7L960.5 369.7L961.7 369.8L962.8 369.8L964 369.9L965.2 370L966.3 370L967.5 370.1L968.6 370.2L969.8 370.3L970.9 370.3L972.1 370.4L973.2 370.5L974.4 370.6L975.5 370.7L976.7 370.7L977.9 370.8L979 370.9L980.2 371L981.3 371.1L982.5 371.2L983.6 371.3L984.8 371.4L985.9 371.5L987.1 371.6L988.2 371.7L989.4 371.8L990.6 371.9L991.7 372.1L992.9 372.2L994 372.3L995.2 372.4L996.3 372.5L997.5 372.7L998.6 372.8L999.8 372.9L1000.9 373L1002.1 373.2L1003.2 373.3L1004.4 373.4L1005.6 373.6L1006.7 373.7L1007.9 373.8L1009 374L1010.2 374.1L1011.3 374.3L1012.5 374.4L1013.6 374.6L1014.8 374.7L1015.9 374.9L1017.1 375L1018.3 375.2L1019.4 375.3L1020.6 375.5L1021.7 375.6L1022.9 375.8L1024 375.9L1025.2 376.1L1026.3 376.3L1027.5 376.4L1028.6 376.6L1029.8 376.8L1031 376.9L1032.1 377.1L1033.3 377.3L1034.4 377.5L1035.6 377.6L1036.7 377.8L1037.9 378L1039 378.2L1040.2 378.4L1041.3 378.5L1042.5 378.7L1043.7 378.9L1044.8 379.1L1046 379.3L1047.1 379.5L1048.3 379.7L1049.4 379.9L1050.6 380.1L1051.7 380.3L1052.9 380.5L1054 380.7L1055.2 380.9L1056.4 381.1L1057.5 381.3L1058.7 381.5L1059.8 381.7L1061 381.9L1062.1 382.1L1063.3 382.3L1064.4 382.5L1065.6 382.7L1066.7 382.9L1067.9 383.1L1069.1 383.3L1070.2 383.6L1071.4 383.8L1072.5 384L1073.7 384.2L1074.8 384.4L1076 384.6L1077.1 384.9L1078.3 385.1L1079.4 385.3L1080.6 385.5L1081.8 385.8L1082.9 386L1084.1 386.2L1085.2 386.4L1086.4 386.7L1087.5 386.9L1088.7 387.1L1089.8 387.4L1091 387.6L1092.1 387.8L1093.3 388.1L1094.5 388.3L1095.6 388.5L1096.8 388.8L1097.9 389L1099.1 389.3L1100.2 389.5L1101.4 389.8L1102.5 390L1103.7 390.2L1104.8 390.5L1106 390.7L1107.1 391L1108.3 391.2L1109.5 391.5L1110.6 391.7L1111.8 392L1112.9 392.2L1114.1 392.5L1115.2 392.7L1116.4 393L1117.5 393.2L1118.7 393.5L1119.8 393.7L1121 394L1122.2 394.3L1123.3 394.5L1124.5 394.8L1125.6 395L1126.8 395.3L1127.9 395.6L1129.1 395.8L1130.2 396.1L1131.4 396.3L1132.5 396.6L1133.7 396.9L1134.9 397.1L1136 397.4L1137.2 397.7L1138.3 397.9L1139.5 398.2L1140.6 398.5L1141.8 398.7L1142.9 399L1144.1 399.3L1145.2 399.6L1146.4 399.8L1147.6 400.1L1148.7 400.4L1149.9 400.7L1151 400.9L1152.2 401.2L1153.3 401.5L1154.5 401.8L1155.6 402L1156.8 402.3L1157.9 402.6L1159.1 402.9L1160.3 403.2L1161.4 403.4L1162.6 403.7L1163.7 404L1164.9 404.3L1166 404.6L1167.2 404.8L1168.3 405.1L1169.5 405.4L1170.6 405.7L1171.8 406L1173 406.3L1174.1 406.6L1175.3 406.8L1176.4 407.1L1177.6 407.4L1178.7 407.7L1179.9 408L1181 408.3L1182.2 408.6L1183.3 408.9L1184.5 409.1L1185.7 409.4L1186.8 409.7L1188 410L1189.1 410.3L1190.3 410.6L1191.4 410.9L1192.6 411.2L1193.7 411.5L1194.9 411.8L1196 412.1L1197.2 412.4L1198.4 412.7L1199.5 413L1200.7 413.3L1201.8 413.6L1203 413.9L1204.1 414.2L1205.3 414.5L1206.4 414.8L1207.6 415.1L1208.7 415.4L1209.9 415.7L1211 416L1212.2 416.3L1213.4 416.6L1214.5 416.9L1215.7 417.2L1216.8 417.5L1218 417.8L1219.1 418.1L1220.3 418.4L1221.4 418.7" fill="none" stroke="#ff0000" stroke-width="1.2" stroke-dasharray="1.2 3.2"/><path d="M1219.1 418.1L1220.3 418.4L1221.4 418.7L1222.6 419L1223.7 419.3L1224.9 419.6L1226.1 419.9L1227.2 420.2L1228.4 420.5L1229.5 420.8L1230.7 421.1L1231.8 421.4L1233 421.7L1234.1 422L1235.3 422.4L1236.4 422.7L1237.6 423L1238.8 423.3L1239.9 423.6L1241.1 423.9L1242.2 424.2L1243.4 424.5L1244.5 424.8L1245.7 425.1L1246.8 425.4L1248 425.8L1249.1 426.1L1250.3 426.4L1251.5 426.7L1252.6 427L1253.8 427.3L1254.9 427.6L1256.1 427.9L1257.2 428.3L1258.4 428.6L1259.5 428.9L1260.7 429.2L1261.8 429.5L1263 429.8L1264.2 430.1L1265.3 430.5L1266.5 430.8L1267.6 431.1L1268.8 431.4L1269.9 431.7L1271.1 432L1272.2 432.4L1273.4 432.7L1274.5 433L1275.7 433.3L1276.9 433.6L1278 433.9L1279.2 434.3L1280.3 434.6L1281.5 434.9L1282.6 435.2L1283.8 435.5L1284.9 435.8L1286.1 436.2L1287.2 436.5L1288.4 436.8L1289.6 437.1L1290.7 437.4L1291.9 437.8L1293 438.1L1294.2 438.4L1295.3 438.7L1296.5 439L1297.6 439.4L1298.8 439.7L1299.9 440L1301.1 440.3L1302.3 440.7L1303.4 441L1304.6 441.3L1305.7 441.6L1306.9 441.9L1308 442.3L1309.2 442.6L1310.3 442.9L1311.5 443.2L1312.6 443.6L1313.8 443.9L1314.9 444.2L1316.1 444.5L1317.3 444.9L1318.4 445.2L1319.6 445.5L1320.7 445.8L1321.9 446.2L1323 446.5L1324.2 446.8L1325.3 447.1L1326.5 447.5L1327.6 447.8L1328.8 448.1L1330 448.4L1331.1 448.8L1332.3 449.1L1333.4 449.4L1334.6 449.7L1335.7 450.1L1336.9 450.4L1338 450.7L1339.2 451L1340.3 451.4L1341.5 451.7L1342.7 452L1343.8 452.3L1345 452.7L1346.1 453L1347.3 453.3L1348.4 453.7L1349.6 454L1350.7 454.3L1351.9 454.6L1353 455L1354.2 455.3L1355.4 455.6L1356.5 456L1357.7 456.3L1358.8 456.6L1360 456.9L1361.1 457.3L1362.3 457.6L1363.4 457.9L1364.6 458.3L1365.7 458.6L1366.9 458.9L1368.1 459.2L1369.2 459.6L1370.4 459.9L1371.5 460.2L1372.7 460.6L1373.8 460.9L1375 461.2L1376.1 461.6L1377.3 461.9L1378.4 462.2L1379.6 462.5L1380.8 462.9L1381.9 463.2L1383.1 463.5L1384.2 463.9L1385.4 464.2L1386.5 464.5L1387.7 464.9L1388.8 465.2L1390 465.5L1391.1 465.9L1392.3 466.2L1393.5 466.5L1394.6 466.9L1395.8 467.2L1396.9 467.5L1398.1 467.8L1399.2 468.2L1400.4 468.5L1401.5 468.8L1402.7 469.2L1403.8 469.5L1405 469.8L1406.2 470.2L1407.3 470.5L1408.5 470.8L1409.6 471.2L1410.8 471.5L1411.9 471.8L1413.1 472.2L1414.2 472.5L1415.4 472.8L1416.5 473.2L1417.7 473.5L1418.8 473.8L1420 474.2L1421.2 474.5" fill="none" stroke="#ff0000" stroke-width="1.2" stroke-dasharray="2.5 2"/><path d="M1418.8 473.8L1420 474.2L1421.2 474.5L1422.3 474.8L1423.5 475.2L1424.6 475.5L1425.8 475.8L1426.9 476.2L1428.1 476.5L1429.2 476.8L1430.4 477.2L1431.5 477.5L1432.7 477.8L1433.9 478.2L1435 478.5L1436.2 478.8L1437.3 479.2L1438.5 479.5L1439.6 479.8L1440.8 480.2L1441.9 480.5L1443.1 480.9L1444.2 481.2L1445.4 481.5L1446.6 481.9L1447.7 482.2L1448.9 482.5L1450 482.9L1451.2 483.2L1452.3 483.5L1453.5 483.9L1454.6 484.2L1455.8 484.5L1456.9 484.9L1458.1 485.2L1459.3 485.5L1460.4 485.9L1461.6 486.2L1462.7 486.5L1463.9 486.9L1465 487.2L1466.2 487.6L1467.3 487.9L1468.5 488.2L1469.6 488.6L1470.8 488.9L1472 489.2L1473.1 489.6L1474.3 489.9L1475.4 490.2L1476.6 490.6L1477.7 490.9L1478.9 491.2L1480 491.6L1481.2 491.9L1482.3 492.3L1483.5 492.6L1484.7 492.9L1485.8 493.3L1487 493.6L1488.1 493.9L1489.3 494.3L1490.4 494.6L1491.6 494.9L1492.7 495.3L1493.9 495.6L1495 496L1496.2 496.3L1497.4 496.6L1498.5 497L1499.7 497.3L1500.8 497.6L1502 498L1503.1 498.3L1504.3 498.6L1505.4 499L1506.6 499.3L1507.7 499.7L1508.9 500L1510.1 500.3L1511.2 500.7L1512.4 501L1513.5 501.3L1514.7 501.7L1515.8 502L1517 502.4L1518.1 502.7L1519.3 503L1520.4 503.4L1521.6 503.7L1522.7 504L1523.9 504.4L1525.1 504.7L1526.2 505.1L1527.4 505.4L1528.5 505.7L1529.7 506.1L1530.8 506.4L1532 506.7L1533.1 507.1L1534.3 507.4L1535.4 507.8L1536.6 508.1L1537.8 508.4L1538.9 508.8L1540.1 509.1L1541.2 509.4L1542.4 509.8L1543.5 510.1L1544.7 510.5L1545.8 510.8L1547 511.1L1548.1 511.5L1549.3 511.8L1550.5 512.1L1551.6 512.5L1552.8 512.8L1553.9 513.2L1555.1 513.5L1556.2 513.8L1557.4 514.2L1558.5 514.5L1559.7 514.8L1560.8 515.2L1562 515.5L1563.2 515.9L1564.3 516.2L1565.5 516.5L1566.6 516.9L1567.8 517.2L1568.9 517.5L1570.1 517.9L1571.2 518.2L1572.4 518.6L1573.5 518.9L1574.7 519.2L1575.9 519.6L1577 519.9L1578.2 520.3L1579.3 520.6L1580.5 520.9L1581.6 521.3L1582.8 521.6L1583.9 521.9L1585.1 522.3L1586.2 522.6L1587.4 523L1588.6 523.3L1589.7 523.6L1590.9 524L1592 524.3L1593.2 524.7L1594.3 525L1595.5 525.3L1596.6 525.7L1597.8 526L1598.9 526.3L1600.1 526.7L1601.3 527L1602.4 527.4L1603.6 527.7L1604.7 528L1605.9 528.4L1607 528.7L1608.2 529.1L1609.3 529.4L1610.5 529.7L1611.6 530.1L1612.8 530.4L1614 530.7L1615.1 531.1L1616.3 531.4L1617.4 531.8L1618.6 532.1L1619.7 532.4L1620.9 532.8L1622 533.1L1623.2 533.5L1624.3 533.8L1625.5 534.1L1626.6 534.5L1627.8 534.8L1629 535.2L1630.1 535.5L1631.3 535.8L1632.4 536.2L1633.6 536.5L1634.7 536.8L1635.9 537.2L1637 537.5L1638.2 537.9L1639.3 538.2L1640.5 538.5L1641.7 538.9L1642.8 539.2L1644 539.6L1645.1 539.9L1646.3 540.2L1647.4 540.6L1648.6 540.9L1649.7 541.3L1650.9 541.6L1652 541.9L1653.2 542.3L1654.4 542.6L1655.5 542.9L1656.7 543.3L1657.8 543.6L1659 544L1660.1 544.3L1661.3 544.6L1662.4 545L1663.6 545.3L1664.7 545.7L1665.9 546L1667.1 546.3L1668.2 546.7L1669.4 547L1670.5 547.4L1671.7 547.7L1672.8 548L1674 548.4L1675.1 548.7L1676.3 549.1L1677.4 549.4L1678.6 549.7L1679.8 550.1L1680.9 550.4L1682.1 550.8L1683.2 551.1L1684.4 551.4L1685.5 551.8L1686.7 552.1L1687.8 552.4L1689 552.8L1690.1 553.1L1691.3 553.5L1692.5 553.8L1693.6 554.1L1694.8 554.5L1695.9 554.8L1697.1 555.2L1698.2 555.5L1699.4 555.8L1700.5 556.2L1701.7 556.5L1702.8 556.9L1704 557.2L1705.2 557.5L1706.3 557.9L1707.5 558.2L1708.6 558.6L1709.8 558.9L1710.9 559.2L1712.1 559.6L1713.2 559.9L1714.4 560.3L1715.5 560.6L1716.7 560.9L1717.9 561.3L1719 561.6L1720.2 562L1721.3 562.3L1722.5 562.6L1723.6 563L1724.8 563.3L1725.9 563.6L1727.1 564L1728.2 564.3L1729.4 564.7L1730.5 565L1731.7 565.3L1732.9 565.7L1734 566L1735.2 566.4L1736.3 566.7L1737.5 567L1738.6 567.4L1739.8 567.7L1740.9 568.1L1742.1 568.4L1743.2 568.7L1744.4 569.1L1745.6 569.4L1746.7 569.8L1747.9 570.1L1749 570.4L1750.2 570.8L1751.3 571.1L1752.5 571.5L1753.6 571.8L1754.8 572.1L1755.9 572.5L1757.1 572.8L1758.3 573.2L1759.4 573.5L1760.6 573.8L1761.7 574.2L1762.9 574.5L1764 574.9L1765.2 575.2L1766.3 575.5L1767.5 575.9L1768.6 576.2L1769.8 576.6L1771 576.9L1772.1 577.2L1773.3 577.6L1774.4 577.9L1775.6 578.2L1776.7 578.6L1777.9 578.9L1779 579.3L1780.2 579.6L1781.3 579.9L1782.5 580.3L1783.7 580.6L1784.8 581L1786 581.3L1787.1 581.6L1788.3 582L1789.4 582.3L1790.6 582.7L1791.7 583L1792.9 583.3L1794 583.7L1795.2 584L1796.4 584.4L1797.5 584.7L1798.7 585L1799.8 585.4L1801 585.7L1802.1 586.1L1803.3 586.4L1804.4 586.7L1805.6 587.1L1806.7 587.4L1807.9 587.8L1809.1 588.1L1810.2 588.4L1811.4 588.8L1812.5 589.1L1813.7 589.5L1814.8 589.8L1816 590.1L1817.1 590.5L1818.3 590.8L1819.4 591.2L1820.6 591.5L1821.8 591.8L1822.9 592.2L1824.1 592.5L1825.2 592.9L1826.4 593.2L1827.5 593.5L1828.7 593.9L1829.8 594.2L1831 594.6L1832.1 594.9L1833.3 595.2L1834.4 595.6L1835.6 595.9L1836.8 596.3L1837.9 596.6L1839.1 596.9L1840.2 597.3L1841.4 597.6L1842.5 598L1843.7 598.3L1844.8 598.6L1846 599L1847.1 599.3L1848.3 599.7L1849.5 600L1850.6 600.3L1851.8 600.7L1852.9 601L1854.1 601.4L1855.2 601.7L1856.4 602L1857.5 602.4L1858.7 602.7L1859.8 603.1L1861 603.4L1862.2 603.7L1863.3 604.1L1864.5 604.4L1865.6 604.7L1866.8 605.1L1867.9 605.4L1869.1 605.8L1870.2 606.1L1871.4 606.4L1872.5 606.8L1873.7 607.1L1874.9 607.5L1876 607.8L1877.2 608.1L1878.3 608.5L1879.5 608.8L1880.6 609.2L1881.8 609.5L1882.9 609.8L1884.1 610.2L1885.2 610.5" fill="none" stroke="#ff0000" stroke-width="1.2"/><path d="M281.4 751.8L287.4 757.8M293.9 741L299.8 746.9M306.3 730.2L312.3 736.1M318.8 719.4L324.7 725.3M331.3 708.6L337.2 714.5M343.8 697.8L349.7 703.7M356.3 687L362.2 693M368.8 676.3L374.7 682.2M381.3 665.6L387.3 671.5M393.9 654.9L399.8 660.8M406.5 644.2L412.4 650.1M419.1 633.5L425 639.5M431.7 622.9L437.6 628.9M444.4 612.3L450.3 618.3M457.1 601.8L463 607.7M469.8 591.3L475.7 597.2M482.6 580.9L488.5 586.8M495.4 570.5L501.3 576.4M508.2 560.1L514.2 566.1M521.2 549.9L527.1 555.8M534.1 539.7L540.1 545.6M547.2 529.6L553.1 535.5M560.3 519.6L566.3 525.5M573.5 509.7L579.5 515.6M586.8 499.9L592.8 505.9M600.2 490.3L606.2 496.2M613.7 480.8L619.7 486.8M627.4 471.5L633.3 477.5M641.1 462.4L647.1 468.4M655 453.5L661 459.5M669.1 444.9L675 450.8M683.3 436.5L689.2 442.4M697.7 428.4L703.6 434.4M712.2 420.7L718.2 426.6M727 413.3L733 419.3M742 406.4L747.9 412.3M757.1 399.9L763.1 405.8M772.5 393.9L778.5 399.8M788.1 388.4L794 394.4M803.8 383.5L809.8 389.4M819.8 379.2L825.7 385.1M838.8 374.2L838.8 382.6M855 371.1L855 379.5M871.3 368.7L871.3 377.1M887.7 366.8L887.7 375.2M904.2 365.6L904.2 374M920.7 364.9L920.7 373.3M937.1 364.8L937.1 373.2M953.6 365.2L953.6 373.6M970.1 366.1L970.1 374.5M986.6 367.4L986.6 375.8M1003 369.1L1003 377.5M1019.4 371.1L1019.4 379.5M1035.7 373.5L1035.7 381.9M1052 376.1L1052 384.5M1068.2 379L1068.2 387.4M1084.4 382.1L1084.4 390.5M1100.6 385.4L1100.6 393.8M1116.7 388.9L1116.7 397.3M1132.8 392.5L1132.8 400.9M1148.9 396.2L1148.9 404.6M1164.9 400.1L1164.9 408.5M1180.9 404.1L1180.9 412.5M1196.9 408.1L1196.9 416.5M1212.9 412.2L1212.9 420.6M1228.9 416.4L1228.9 424.8M1244.8 420.7L1244.8 429.1M1260.7 425L1260.7 433.4M1276.7 429.4L1276.7 437.8M1292.6 433.8L1292.6 442.2M1308.5 438.2L1308.5 446.6M1324.1 442.6L1324.1 451M1339.4 446.9L1339.4 455.3M1354.3 451.1L1354.3 459.5M1368.8 455.3L1368.8 463.7M1382.9 459.3L1382.9 467.7M1396.7 463.3L1396.7 471.7M1410.2 467.1L1410.2 475.5M1423.3 470.9L1423.3 479.3M1436 474.6L1436 483M1448.5 478.2L1448.5 486.6M1460.6 481.7L1460.6 490.1M1472.7 485.3L1472.7 493.7M1484.8 488.8L1484.8 497.2M1496.9 492.3L1496.9 500.7M1509 495.8L1509 504.2M1521.1 499.4L1521.1 507.8M1533.2 502.9L1533.2 511.3M1545.3 506.4L1545.3 514.8M1557.4 510L1557.4 518.4M1569.5 513.5L1569.5 521.9M1581.6 517.1L1581.6 525.5M1593.7 520.6L1593.7 529M1605.8 524.1L1605.8 532.5M1617.9 527.7L1617.9 536.1M1629.9 531.2L1629.9 539.6M1642 534.8L1642 543.2M1654.1 538.3L1654.1 546.7M1666.2 541.9L1666.2 550.3M1678.3 545.4L1678.3 553.8M1690.4 549L1690.4 557.4M1702.5 552.6L1702.5 561M1714.6 556.1L1714.6 564.5M1726.7 559.7L1726.7 568.1M1738.7 563.2L1738.7 571.6M1750.8 566.8L1750.8 575.2M1762.9 570.3L1762.9 578.7M1775 573.9L1775 582.3M1787.1 577.4L1787.1 585.8M1799.2 581L1799.2 589.4M1811.3 584.6L1811.3 593M1823.4 588.1L1823.4 596.5M1835.4 591.7L1835.4 600.1M1847.5 595.2L1847.5 603.6M1859.6 598.8L1859.6 607.2M1871.7 602.3L1871.7 610.7" fill="none" stroke="#ff0000" stroke-width="1.7"/><path d="M270.2 623.8L271.3 623.3L272.5 622.8L273.6 622.3L274.8 621.8L276 621.3L277.1 620.8L278.3 620.3L279.4 619.8L280.6 619.3L281.7 618.8L282.9 618.3L284 617.8L285.2 617.3L286.3 616.8L287.5 616.3L288.6 615.8L289.8 615.3L291 614.8L292.1 614.3L293.3 613.8L294.4 613.3L295.6 612.8L296.7 612.3L297.9 611.7L299 611.2L300.2 610.7L301.3 610.2L302.5 609.7L303.7 609.2L304.8 608.7L306 608.2L307.1 607.7L308.3 607.2L309.4 606.7L310.6 606.2L311.7 605.7L312.9 605.2L314 604.7L315.2 604.2L316.4 603.7L317.5 603.2L318.7 602.7L319.8 602.2L321 601.7L322.1 601.2L323.3 600.7L324.4 600.2L325.6 599.7L326.7 599.2L327.9 598.7L329.1 598.2L330.2 597.7L331.4 597.2L332.5 596.7L333.7 596.2L334.8 595.7L336 595.2L337.1 594.7L338.3 594.2L339.4 593.7L340.6 593.2L341.8 592.7L342.9 592.2L344.1 591.7L345.2 591.2L346.4 590.7L347.5 590.2L348.7 589.7L349.8 589.2L351 588.7L352.1 588.2L353.3 587.7L354.5 587.2L355.6 586.7L356.8 586.2L357.9 585.7L359.1 585.2L360.2 584.7L361.4 584.2L362.5 583.7L363.7 583.2L364.8 582.7L366 582.2L367.2 581.7L368.3 581.2L369.5 580.7L370.6 580.2L371.8 579.7L372.9 579.2L374.1 578.7L375.2 578.2L376.4 577.7L377.5 577.2L378.7 576.7L379.9 576.2L381 575.8L382.2 575.3L383.3 574.8L384.5 574.3L385.6 573.8L386.8 573.3L387.9 572.8L389.1 572.3L390.2 571.8L391.4 571.3L392.5 570.8L393.7 570.3L394.9 569.8L396 569.3L397.2 568.8L398.3 568.3L399.5 567.8L400.6 567.3L401.8 566.8L402.9 566.4L404.1 565.9L405.2 565.4L406.4 564.9L407.6 564.4L408.7 563.9L409.9 563.4L411 562.9L412.2 562.4L413.3 561.9L414.5 561.4L415.6 560.9L416.8 560.5L417.9 560L419.1 559.5L420.3 559L421.4 558.5L422.6 558L423.7 557.5L424.9 557L426 556.5L427.2 556L428.3 555.6L429.5 555.1L430.6 554.6L431.8 554.1L433 553.6L434.1 553.1L435.3 552.6L436.4 552.1L437.6 551.6L438.7 551.2L439.9 550.7L441 550.2L442.2 549.7L443.3 549.2L444.5 548.7L445.7 548.2L446.8 547.8L448 547.3L449.1 546.8L450.3 546.3L451.4 545.8L452.6 545.3L453.7 544.8L454.9 544.4L456 543.9L457.2 543.4L458.4 542.9L459.5 542.4L460.7 541.9L461.8 541.5L463 541L464.1 540.5L465.3 540L466.4 539.5L467.6 539.1L468.7 538.6L469.9 538.1L471.1 537.6L472.2 537.1L473.4 536.7L474.5 536.2L475.7 535.7L476.8 535.2L478 534.7L479.1 534.3L480.3 533.8L481.4 533.3L482.6 532.8L483.8 532.4L484.9 531.9L486.1 531.4L487.2 530.9L488.4 530.4L489.5 530L490.7 529.5L491.8 529L493 528.6L494.1 528.1L495.3 527.6L496.4 527.1L497.6 526.7L498.8 526.2L499.9 525.7L501.1 525.2L502.2 524.8L503.4 524.3L504.5 523.8L505.7 523.4L506.8 522.9L508 522.4L509.1 521.9L510.3 521.5L511.5 521L512.6 520.5L513.8 520.1L514.9 519.6L516.1 519.1L517.2 518.7L518.4 518.2L519.5 517.7L520.7 517.3L521.8 516.8L523 516.4L524.2 515.9L525.3 515.4L526.5 515L527.6 514.5L528.8 514L529.9 513.6L531.1 513.1L532.2 512.7L533.4 512.2L534.5 511.7L535.7 511.3L536.9 510.8L538 510.4L539.2 509.9L540.3 509.4L541.5 509L542.6 508.5L543.8 508.1L544.9 507.6L546.1 507.2L547.2 506.7L548.4 506.3L549.6 505.8L550.7 505.4L551.9 504.9L553 504.5L554.2 504L555.3 503.6L556.5 503.1L557.6 502.7L558.8 502.2L559.9 501.8L561.1 501.3L562.3 500.9L563.4 500.4L564.6 500L565.7 499.5L566.9 499.1L568 498.6L569.2 498.2L570.3 497.8L571.5 497.3L572.6 496.9L573.8 496.4L575 496L576.1 495.5L577.3 495.1L578.4 494.7L579.6 494.2L580.7 493.8L581.9 493.4L583 492.9L584.2 492.5L585.3 492.1L586.5 491.6L587.7 491.2L588.8 490.8L590 490.3L591.1 489.9L592.3 489.5L593.4 489L594.6 488.6L595.7 488.2L596.9 487.8L598 487.3L599.2 486.9L600.3 486.5L601.5 486.1L602.7 485.6L603.8 485.2L605 484.8L606.1 484.4L607.3 483.9L608.4 483.5L609.6 483.1L610.7 482.7L611.9 482.3L613 481.9L614.2 481.4L615.4 481L616.5 480.6L617.7 480.2L618.8 479.8L620 479.4L621.1 479L622.3 478.6L623.4 478.2L624.6 477.7L625.7 477.3L626.9 476.9L628.1 476.5L629.2 476.1L630.4 475.7L631.5 475.3L632.7 474.9L633.8 474.5L635 474.1L636.1 473.7L637.3 473.3L638.4 472.9L639.6 472.5L640.8 472.1L641.9 471.8L643.1 471.4L644.2 471L645.4 470.6L646.5 470.2L647.7 469.8L648.8 469.4L650 469L651.1 468.7L652.3 468.3L653.5 467.9L654.6 467.5L655.8 467.1L656.9 466.7L658.1 466.4L659.2 466L660.4 465.6L661.5 465.2L662.7 464.9L663.8 464.5L665 464.1L666.2 463.8L667.3 463.4L668.5 463L669.6 462.7L670.8 462.3L671.9 461.9L673.1 461.6L674.2 461.2L675.4 460.8L676.5 460.5L677.7 460.1L678.9 459.8L680 459.4L681.2 459.1L682.3 458.7L683.5 458.4L684.6 458L685.8 457.7L686.9 457.3L688.1 457L689.2 456.6L690.4 456.3L691.6 455.9L692.7 455.6L693.9 455.3L695 454.9L696.2 454.6L697.3 454.2L698.5 453.9L699.6 453.6L700.8 453.2L701.9 452.9L703.1 452.6L704.2 452.3L705.4 451.9L706.6 451.6L707.7 451.3L708.9 451L710 450.7L711.2 450.3L712.3 450L713.5 449.7L714.6 449.4L715.8 449.1L716.9 448.8L718.1 448.5L719.3 448.2L720.4 447.8L721.6 447.5L722.7 447.2L723.9 446.9L725 446.6L726.2 446.3L727.3 446L728.5 445.8L729.6 445.5L730.8 445.2L732 444.9L733.1 444.6L734.3 444.3L735.4 444L736.6 443.7L737.7 443.5L738.9 443.2L740 442.9L741.2 442.6L742.3 442.3L743.5 442.1L744.7 441.8L745.8 441.5L747 441.3L748.1 441L749.3 440.7L750.4 440.5L751.6 440.2L752.7 439.9L753.9 439.7L755 439.4L756.2 439.2L757.4 438.9L758.5 438.7L759.7 438.4L760.8 438.2L762 437.9L763.1 437.7L764.3 437.5L765.4 437.2L766.6 437L767.7 436.7L768.9 436.5L770.1 436.3L771.2 436.1L772.4 435.8L773.5 435.6L774.7 435.4L775.8 435.1L777 434.9L778.1 434.7L779.3 434.5L780.4 434.3L781.6 434.1L782.8 433.9L783.9 433.6L785.1 433.4L786.2 433.2L787.4 433L788.5 432.8L789.7 432.6L790.8 432.4L792 432.2L793.1 432L794.3 431.9L795.5 431.7L796.6 431.5L797.8 431.3L798.9 431.1L800.1 430.9L801.2 430.8L802.4 430.6L803.5 430.4L804.7 430.2L805.8 430.1L807 429.9L808.1 429.7L809.3 429.6L810.5 429.4L811.6 429.2L812.8 429.1L813.9 428.9L815.1 428.8L816.2 428.6L817.4 428.5L818.5 428.3L819.7 428.2L820.8 428L822 427.9L823.2 427.7L824.3 427.6L825.5 427.5L826.6 427.3L827.8 427.2L828.9 427.1L830.1 426.9L831.2 426.8L832.4 426.7L833.5 426.6L834.7 426.5L835.9 426.3L837 426.2L838.2 426.1L839.3 426L840.5 425.9L841.6 425.8L842.8 425.7L843.9 425.6L845.1 425.5L846.2 425.4L847.4 425.3L848.6 425.2L849.7 425.1L850.9 425L852 424.9L853.2 424.9L854.3 424.8L855.5 424.7L856.6 424.6L857.8 424.5L858.9 424.5L860.1 424.4L861.3 424.3L862.4 424.2L863.6 424.2L864.7 424.1L865.9 424.1L867 424L868.2 423.9L869.3 423.9L870.5 423.8L871.6 423.8L872.8 423.7L874 423.7L875.1 423.6L876.3 423.6L877.4 423.6L878.6 423.5L879.7 423.5L880.9 423.5L882 423.4L883.2 423.4L884.3 423.4L885.5 423.3L886.7 423.3L887.8 423.3L889 423.3L890.1 423.3L891.3 423.2L892.4 423.2L893.6 423.2L894.7 423.2L895.9 423.2L897 423.2L898.2 423.2L899.4 423.2L900.5 423.2L901.7 423.2L902.8 423.2L904 423.2L905.1 423.2L906.3 423.2L907.4 423.2L908.6 423.3L909.7 423.3L910.9 423.3L912 423.3L913.2 423.3L914.4 423.4L915.5 423.4L916.7 423.4L917.8 423.5L919 423.5L920.1 423.5L921.3 423.6L922.4 423.6L923.6 423.6L924.7 423.7L925.9 423.7L927.1 423.8L928.2 423.8L929.4 423.9L930.5 423.9L931.7 424L932.8 424L934 424.1L935.1 424.2L936.3 424.2L937.4 424.3L938.6 424.4L939.8 424.4L940.9 424.5L942.1 424.6L943.2 424.6L944.4 424.7L945.5 424.8L946.7 424.9L947.8 424.9L949 425L950.1 425.1L951.3 425.2L952.5 425.3L953.6 425.4L954.8 425.5L955.9 425.6L957.1 425.7L958.2 425.8L959.4 425.9L960.5 426L961.7 426.1L962.8 426.2L964 426.3L965.2 426.4L966.3 426.5L967.5 426.6L968.6 426.7L969.8 426.8L970.9 426.9L972.1 427L973.2 427.2L974.4 427.3L975.5 427.4L976.7 427.5L977.9 427.7L979 427.8L980.2 427.9L981.3 428L982.5 428.2L983.6 428.3L984.8 428.4L985.9 428.6L987.1 428.7L988.2 428.8L989.4 429L990.6 429.1L991.7 429.3L992.9 429.4L994 429.6L995.2 429.7L996.3 429.9L997.5 430L998.6 430.2L999.8 430.3L1000.9 430.5L1002.1 430.6L1003.2 430.8L1004.4 431L1005.6 431.1L1006.7 431.3L1007.9 431.4L1009 431.6L1010.2 431.8L1011.3 431.9L1012.5 432.1L1013.6 432.3L1014.8 432.5L1015.9 432.6L1017.1 432.8L1018.3 433L1019.4 433.2L1020.6 433.3L1021.7 433.5L1022.9 433.7L1024 433.9L1025.2 434.1L1026.3 434.3L1027.5 434.4L1028.6 434.6L1029.8 434.8L1031 435L1032.1 435.2L1033.3 435.4L1034.4 435.6L1035.6 435.8L1036.7 436L1037.9 436.2L1039 436.4L1040.2 436.6L1041.3 436.8L1042.5 437L1043.7 437.2L1044.8 437.4L1046 437.6L1047.1 437.8L1048.3 438L1049.4 438.2L1050.6 438.4L1051.7 438.6L1052.9 438.8L1054 439.1L1055.2 439.3L1056.4 439.5L1057.5 439.7L1058.7 439.9L1059.8 440.1L1061 440.4L1062.1 440.6L1063.3 440.8L1064.4 441L1065.6 441.3L1066.7 441.5L1067.9 441.7L1069.1 441.9L1070.2 442.2L1071.4 442.4L1072.5 442.6L1073.7 442.9L1074.8 443.1L1076 443.3L1077.1 443.5L1078.3 443.8L1079.4 444L1080.6 444.3L1081.8 444.5L1082.9 444.7L1084.1 445L1085.2 445.2L1086.4 445.5L1087.5 445.7L1088.7 445.9L1089.8 446.2L1091 446.4L1092.1 446.7L1093.3 446.9L1094.5 447.2L1095.6 447.4L1096.8 447.7L1097.9 447.9L1099.1 448.2L1100.2 448.4L1101.4 448.7L1102.5 448.9L1103.7 449.2L1104.8 449.4L1106 449.7L1107.1 449.9L1108.3 450.2L1109.5 450.4L1110.6 450.7L1111.8 451L1112.9 451.2L1114.1 451.5L1115.2 451.7L1116.4 452L1117.5 452.3L1118.7 452.5L1119.8 452.8L1121 453.1L1122.2 453.3L1123.3 453.6L1124.5 453.9L1125.6 454.1L1126.8 454.4L1127.9 454.7L1129.1 454.9L1130.2 455.2L1131.4 455.5L1132.5 455.7L1133.7 456L1134.9 456.3L1136 456.5L1137.2 456.8L1138.3 457.1L1139.5 457.4L1140.6 457.6L1141.8 457.9L1142.9 458.2L1144.1 458.5L1145.2 458.8L1146.4 459L1147.6 459.3L1148.7 459.6L1149.9 459.9L1151 460.2L1152.2 460.4L1153.3 460.7L1154.5 461L1155.6 461.3L1156.8 461.6L1157.9 461.8L1159.1 462.1L1160.3 462.4L1161.4 462.7L1162.6 463L1163.7 463.3L1164.9 463.6L1166 463.8L1167.2 464.1L1168.3 464.4L1169.5 464.7L1170.6 465L1171.8 465.3L1173 465.6L1174.1 465.9L1175.3 466.2L1176.4 466.5L1177.6 466.7L1178.7 467L1179.9 467.3L1181 467.6L1182.2 467.9L1183.3 468.2L1184.5 468.5L1185.7 468.8L1186.8 469.1L1188 469.4L1189.1 469.7L1190.3 470L1191.4 470.3L1192.6 470.6L1193.7 470.9L1194.9 471.2L1196 471.5L1197.2 471.8L1198.4 472.1L1199.5 472.4L1200.7 472.7L1201.8 473L1203 473.3L1204.1 473.6L1205.3 473.9L1206.4 474.2L1207.6 474.5L1208.7 474.8L1209.9 475.1L1211 475.4L1212.2 475.7L1213.4 476L1214.5 476.3L1215.7 476.6L1216.8 476.9L1218 477.2L1219.1 477.5L1220.3 477.8L1221.4 478.1" fill="none" stroke="#0000ff" stroke-width="1.3" stroke-dasharray="1.2 3.2"/><path d="M1219.1 477.5L1220.3 477.8L1221.4 478.1L1222.6 478.4L1223.7 478.8L1224.9 479.1L1226.1 479.4L1227.2 479.7L1228.4 480L1229.5 480.3L1230.7 480.6L1231.8 480.9L1233 481.2L1234.1 481.5L1235.3 481.8L1236.4 482.2L1237.6 482.5L1238.8 482.8L1239.9 483.1L1241.1 483.4L1242.2 483.7L1243.4 484L1244.5 484.3L1245.7 484.6L1246.8 485L1248 485.3L1249.1 485.6L1250.3 485.9L1251.5 486.2L1252.6 486.5L1253.8 486.8L1254.9 487.2L1256.1 487.5L1257.2 487.8L1258.4 488.1L1259.5 488.4L1260.7 488.7L1261.8 489.1L1263 489.4L1264.2 489.7L1265.3 490L1266.5 490.3L1267.6 490.6L1268.8 491L1269.9 491.3L1271.1 491.6L1272.2 491.9L1273.4 492.2L1274.5 492.5L1275.7 492.9L1276.9 493.2L1278 493.5L1279.2 493.8L1280.3 494.1L1281.5 494.5L1282.6 494.8L1283.8 495.1L1284.9 495.4L1286.1 495.7L1287.2 496.1L1288.4 496.4L1289.6 496.7L1290.7 497L1291.9 497.3L1293 497.7L1294.2 498L1295.3 498.3L1296.5 498.6L1297.6 499L1298.8 499.3L1299.9 499.6L1301.1 499.9L1302.3 500.2L1303.4 500.6L1304.6 500.9L1305.7 501.2L1306.9 501.5L1308 501.9L1309.2 502.2L1310.3 502.5L1311.5 502.8L1312.6 503.2L1313.8 503.5L1314.9 503.8L1316.1 504.1L1317.3 504.5L1318.4 504.8L1319.6 505.1L1320.7 505.4L1321.9 505.8L1323 506.1L1324.2 506.4L1325.3 506.7L1326.5 507.1L1327.6 507.4L1328.8 507.7L1330 508L1331.1 508.4L1332.3 508.7L1333.4 509L1334.6 509.4L1335.7 509.7L1336.9 510L1338 510.3L1339.2 510.7L1340.3 511L1341.5 511.3L1342.7 511.6L1343.8 512L1345 512.3L1346.1 512.6L1347.3 513L1348.4 513.3L1349.6 513.6L1350.7 513.9L1351.9 514.3L1353 514.6L1354.2 514.9L1355.4 515.3L1356.5 515.6L1357.7 515.9L1358.8 516.3L1360 516.6L1361.1 516.9L1362.3 517.2L1363.4 517.6L1364.6 517.9L1365.7 518.2L1366.9 518.6L1368.1 518.9L1369.2 519.2L1370.4 519.6L1371.5 519.9L1372.7 520.2L1373.8 520.5L1375 520.9L1376.1 521.2L1377.3 521.5L1378.4 521.9L1379.6 522.2L1380.8 522.5L1381.9 522.9L1383.1 523.2L1384.2 523.5L1385.4 523.9L1386.5 524.2L1387.7 524.5L1388.8 524.9L1390 525.2L1391.1 525.5L1392.3 525.8L1393.5 526.2L1394.6 526.5L1395.8 526.8L1396.9 527.2L1398.1 527.5L1399.2 527.8L1400.4 528.2L1401.5 528.5L1402.7 528.8L1403.8 529.2L1405 529.5L1406.2 529.8L1407.3 530.2L1408.5 530.5L1409.6 530.8L1410.8 531.2L1411.9 531.5L1413.1 531.8L1414.2 532.2L1415.4 532.5L1416.5 532.8L1417.7 533.2L1418.8 533.5L1420 533.8L1421.2 534.2" fill="none" stroke="#0000ff" stroke-width="1.3" stroke-dasharray="2.5 2"/><path d="M1418.8 533.5L1420 533.8L1421.2 534.2L1422.3 534.5L1423.5 534.8L1424.6 535.2L1425.8 535.5L1426.9 535.8L1428.1 536.2L1429.2 536.5L1430.4 536.8L1431.5 537.2L1432.7 537.5L1433.9 537.9L1435 538.2L1436.2 538.5L1437.3 538.9L1438.5 539.2L1439.6 539.5L1440.8 539.9L1441.9 540.2L1443.1 540.5L1444.2 540.9L1445.4 541.2L1446.6 541.5L1447.7 541.9L1448.9 542.2L1450 542.5L1451.2 542.9L1452.3 543.2L1453.5 543.5L1454.6 543.9L1455.8 544.2L1456.9 544.6L1458.1 544.9L1459.3 545.2L1460.4 545.6L1461.6 545.9L1462.7 546.2L1463.9 546.6L1465 546.9L1466.2 547.2L1467.3 547.6L1468.5 547.9L1469.6 548.2L1470.8 548.6L1472 548.9L1473.1 549.3L1474.3 549.6L1475.4 549.9L1476.6 550.3L1477.7 550.6L1478.9 550.9L1480 551.3L1481.2 551.6L1482.3 551.9L1483.5 552.3L1484.7 552.6L1485.8 553L1487 553.3L1488.1 553.6L1489.3 554L1490.4 554.3L1491.6 554.6L1492.7 555L1493.9 555.3L1495 555.6L1496.2 556L1497.4 556.3L1498.5 556.7L1499.7 557L1500.8 557.3L1502 557.7L1503.1 558L1504.3 558.3L1505.4 558.7L1506.6 559L1507.7 559.4L1508.9 559.7L1510.1 560L1511.2 560.4L1512.4 560.7L1513.5 561L1514.7 561.4L1515.8 561.7L1517 562L1518.1 562.4L1519.3 562.7L1520.4 563.1L1521.6 563.4L1522.7 563.7L1523.9 564.1L1525.1 564.4L1526.2 564.7L1527.4 565.1L1528.5 565.4L1529.7 565.8L1530.8 566.1L1532 566.4L1533.1 566.8L1534.3 567.1L1535.4 567.4L1536.6 567.8L1537.8 568.1L1538.9 568.5L1540.1 568.8L1541.2 569.1L1542.4 569.5L1543.5 569.8L1544.7 570.2L1545.8 570.5L1547 570.8L1548.1 571.2L1549.3 571.5L1550.5 571.8L1551.6 572.2L1552.8 572.5L1553.9 572.9L1555.1 573.2L1556.2 573.5L1557.4 573.9L1558.5 574.2L1559.7 574.5L1560.8 574.9L1562 575.2L1563.2 575.6L1564.3 575.9L1565.5 576.2L1566.6 576.6L1567.8 576.9L1568.9 577.3L1570.1 577.6L1571.2 577.9L1572.4 578.3L1573.5 578.6L1574.7 578.9L1575.9 579.3L1577 579.6L1578.2 580L1579.3 580.3L1580.5 580.6L1581.6 581L1582.8 581.3L1583.9 581.6L1585.1 582L1586.2 582.3L1587.4 582.7L1588.6 583L1589.7 583.3L1590.9 583.7L1592 584L1593.2 584.4L1594.3 584.7L1595.5 585L1596.6 585.4L1597.8 585.7L1598.9 586.1L1600.1 586.4L1601.3 586.7L1602.4 587.1L1603.6 587.4L1604.7 587.7L1605.9 588.1L1607 588.4L1608.2 588.8L1609.3 589.1L1610.5 589.4L1611.6 589.8L1612.8 590.1L1614 590.5L1615.1 590.8L1616.3 591.1L1617.4 591.5L1618.6 591.8L1619.7 592.1L1620.9 592.5L1622 592.8L1623.2 593.2L1624.3 593.5L1625.5 593.8L1626.6 594.2L1627.8 594.5L1629 594.9L1630.1 595.2L1631.3 595.5L1632.4 595.9L1633.6 596.2L1634.7 596.6L1635.9 596.9L1637 597.2L1638.2 597.6L1639.3 597.9L1640.5 598.2L1641.7 598.6L1642.8 598.9L1644 599.3L1645.1 599.6L1646.3 599.9L1647.4 600.3L1648.6 600.6L1649.7 601L1650.9 601.3L1652 601.6L1653.2 602L1654.4 602.3L1655.5 602.7L1656.7 603L1657.8 603.3L1659 603.7L1660.1 604L1661.3 604.4L1662.4 604.7L1663.6 605L1664.7 605.4L1665.9 605.7L1667.1 606L1668.2 606.4L1669.4 606.7L1670.5 607.1L1671.7 607.4L1672.8 607.7L1674 608.1L1675.1 608.4L1676.3 608.8L1677.4 609.1L1678.6 609.4L1679.8 609.8L1680.9 610.1L1682.1 610.5L1683.2 610.8L1684.4 611.1L1685.5 611.5L1686.7 611.8L1687.8 612.2L1689 612.5L1690.1 612.8L1691.3 613.2L1692.5 613.5L1693.6 613.9L1694.8 614.2L1695.9 614.5L1697.1 614.9L1698.2 615.2L1699.4 615.6L1700.5 615.9L1701.7 616.2L1702.8 616.6L1704 616.9L1705.2 617.2L1706.3 617.6L1707.5 617.9L1708.6 618.3L1709.8 618.6L1710.9 618.9L1712.1 619.3L1713.2 619.6L1714.4 620L1715.5 620.3L1716.7 620.6L1717.9 621L1719 621.3L1720.2 621.7L1721.3 622L1722.5 622.3L1723.6 622.7L1724.8 623L1725.9 623.4L1727.1 623.7L1728.2 624L1729.4 624.4L1730.5 624.7L1731.7 625.1L1732.9 625.4L1734 625.7L1735.2 626.1L1736.3 626.4L1737.5 626.8L1738.6 627.1L1739.8 627.4L1740.9 627.8L1742.1 628.1L1743.2 628.5L1744.4 628.8L1745.6 629.1L1746.7 629.5L1747.9 629.8L1749 630.1L1750.2 630.5L1751.3 630.8L1752.5 631.2L1753.6 631.5L1754.8 631.8L1755.9 632.2L1757.1 632.5L1758.3 632.9L1759.4 633.2L1760.6 633.5L1761.7 633.9L1762.9 634.2L1764 634.6L1765.2 634.9L1766.3 635.2L1767.5 635.6L1768.6 635.9L1769.8 636.3L1771 636.6L1772.1 636.9L1773.3 637.3L1774.4 637.6L1775.6 638L1776.7 638.3L1777.9 638.6L1779 639L1780.2 639.3L1781.3 639.7L1782.5 640L1783.7 640.3L1784.8 640.7L1786 641L1787.1 641.4L1788.3 641.7L1789.4 642L1790.6 642.4L1791.7 642.7L1792.9 643.1L1794 643.4L1795.2 643.7L1796.4 644.1L1797.5 644.4L1798.7 644.8L1799.8 645.1L1801 645.4L1802.1 645.8L1803.3 646.1L1804.4 646.5L1805.6 646.8L1806.7 647.1L1807.9 647.5L1809.1 647.8L1810.2 648.2L1811.4 648.5L1812.5 648.8L1813.7 649.2L1814.8 649.5L1816 649.9L1817.1 650.2L1818.3 650.5L1819.4 650.9L1820.6 651.2L1821.8 651.5L1822.9 651.9L1824.1 652.2L1825.2 652.6L1826.4 652.9L1827.5 653.2L1828.7 653.6L1829.8 653.9L1831 654.3L1832.1 654.6L1833.3 654.9L1834.4 655.3L1835.6 655.6L1836.8 656L1837.9 656.3L1839.1 656.6L1840.2 657L1841.4 657.3L1842.5 657.7L1843.7 658L1844.8 658.3L1846 658.7L1847.1 659L1848.3 659.4L1849.5 659.7L1850.6 660L1851.8 660.4L1852.9 660.7L1854.1 661.1L1855.2 661.4L1856.4 661.7L1857.5 662.1L1858.7 662.4L1859.8 662.8L1861 663.1L1862.2 663.4L1863.3 663.8L1864.5 664.1L1865.6 664.5L1866.8 664.8L1867.9 665.1L1869.1 665.5L1870.2 665.8L1871.4 666.2L1872.5 666.5L1873.7 666.8L1874.9 667.2L1876 667.5L1877.2 667.9L1878.3 668.2L1879.5 668.5L1880.6 668.9L1881.8 669.2L1882.9 669.6L1884.1 669.9L1885.2 670.2" fill="none" stroke="#0000ff" stroke-width="1.3"/><path d="M320 602.1L326 599.5L332.1 596.9L338.1 594.3L344.2 591.6L350.2 589L356.3 586.4L362.3 583.8M416 560.8L422 558.2L428 555.7L434 553.2L440 550.6L446 548.1L452 545.6L458 543.1M513 520.4L519 517.9L525.1 515.5L531.1 513.1L537.2 510.7L543.2 508.3L549.3 505.9L555.3 503.6M610.6 482.7L616.7 480.6L622.7 478.4L628.8 476.3L634.8 474.2L640.9 472.1L646.9 470.1L653 468M711.4 450.3L717.4 448.7L723.3 447.1L729.3 445.5L735.3 444.1L741.3 442.6L747.2 441.2L753.2 439.8M813.5 429L819.7 428.2L825.9 427.4L832.1 426.7L838.2 426.1L844.4 425.5L850.6 425L856.8 424.6M918.7 423.5L924.9 423.7L931.1 424L937.3 424.3L943.4 424.7L949.6 425.1L955.8 425.6L962 426.1M1022.3 433.6L1028.5 434.6L1034.7 435.6L1040.9 436.7L1047.1 437.8L1053.3 438.9L1059.5 440.1L1065.7 441.3M1126 454.2L1132 455.6L1137.9 457L1143.9 458.4L1149.8 459.9L1155.8 461.3L1161.7 462.8L1167.7 464.3M1225.4 479.2L1231.4 480.8L1237.4 482.4L1243.4 484L1249.5 485.7L1255.5 487.3L1261.5 489L1267.5 490.6M1323.5 506.2L1328.4 507.6L1333.4 509L1338.3 510.4L1343.2 511.8L1348.1 513.2L1353.1 514.6L1358 516M1404 529.2L1408.4 530.5L1412.9 531.8L1417.3 533.1L1421.7 534.3L1426.1 535.6L1430.6 536.9L1435 538.2M1483.6 552.3L1488 553.6L1492.5 554.9L1496.9 556.2L1501.3 557.5L1505.7 558.8L1510.2 560.1L1514.6 561.4M1558.8 574.3L1563.2 575.6L1567.7 576.9L1572.1 578.2L1576.5 579.5L1580.9 580.8L1585.4 582.1L1589.8 583.4M1634 596.3L1638.1 597.5L1642.2 598.8L1646.3 600L1650.5 601.2L1654.6 602.4L1658.7 603.6L1662.8 604.8M1696 614.6L1700.4 615.9L1704.9 617.2L1709.3 618.5L1713.7 619.8L1718.1 621.1L1722.6 622.4L1727 623.7M1768.8 636L1773.3 637.3L1777.7 638.6L1782.2 639.9L1786.6 641.2L1791.1 642.5L1795.5 643.8L1800 645.1M1841 657.2L1845.7 658.6L1850.4 660L1855.1 661.4L1859.9 662.8L1864.6 664.2L1869.3 665.5L1874 666.9M289.1 615.6L290 615.2L291 614.8L291.9 614.3L292.9 613.9L293.8 613.5L294.8 613.1L295.7 612.7M385 574L385.9 573.6L386.9 573.2L387.8 572.8L388.8 572.4L389.7 572L390.7 571.6L391.6 571.2M482.3 533L483.2 532.6L484.2 532.2L485.1 531.8L486.1 531.4L487 531L488 530.6L488.9 530.2M578.2 494.8L579.1 494.4L580.1 494L581 493.7L582 493.3L582.9 493L583.9 492.6L584.8 492.3M678.7 459.8L679.6 459.5L680.6 459.2L681.5 458.9L682.5 458.7L683.4 458.4L684.4 458.1L685.3 457.8M780.8 434.2L781.7 434L782.7 433.9L783.6 433.7L784.6 433.5L785.5 433.4L786.5 433.2L787.4 433M884.4 423.4L885.3 423.3L886.3 423.3L887.2 423.3L888.2 423.3L889.1 423.3L890.1 423.3L891 423.2M988.1 428.8L989 428.9L990 429.1L990.9 429.2L991.9 429.3L992.8 429.4L993.8 429.5L994.7 429.7M1091.7 446.6L1092.6 446.8L1093.6 447L1094.5 447.2L1095.5 447.4L1096.4 447.6L1097.4 447.8L1098.3 448M1194.1 471L1195 471.2L1196 471.5L1196.9 471.7L1197.9 471.9L1198.8 472.2L1199.8 472.4L1200.7 472.7M1292.2 497.4L1293.1 497.7L1294.1 498L1295 498.2L1296 498.5L1296.9 498.8L1297.9 499L1298.8 499.3M1377.7 521.7L1378.6 521.9L1379.6 522.2L1380.5 522.5L1381.5 522.7L1382.4 523L1383.4 523.3L1384.3 523.5M1457.3 544.7L1458.2 544.9L1459.2 545.2L1460.1 545.5L1461.1 545.8L1462 546L1463 546.3L1463.9 546.6M1533.4 566.8L1534.3 567.1L1535.3 567.4L1536.2 567.7L1537.2 568L1538.1 568.2L1539.1 568.5L1540 568.8M1610 589.3L1610.9 589.6L1611.9 589.8L1612.8 590.1L1613.8 590.4L1614.7 590.7L1615.7 591L1616.6 591.2M1677.2 609L1678.1 609.3L1679.1 609.6L1680 609.9L1681 610.1L1681.9 610.4L1682.9 610.7L1683.8 611M1744.9 628.9L1745.8 629.2L1746.8 629.5L1747.7 629.8L1748.7 630L1749.6 630.3L1750.6 630.6L1751.5 630.9M1814.7 649.5L1815.6 649.8L1816.6 650L1817.5 650.3L1818.5 650.6L1819.4 650.9L1820.4 651.1L1821.3 651.4" fill="none" stroke="#0000ff" stroke-width="10"/></g>
<path d="M316.8 638.4L428.5 1005.2" stroke="#000" stroke-width="4" fill="none"/><path d="M306.4 608.3L308.9 641.3L324.6 635.5Z" fill="#000"/><path d="M416.5 640L601.8 834.5" stroke="#000" stroke-width="4" fill="none"/><path d="M393.9 617.4L410.4 646.2L422.7 633.9Z" fill="#000"/><path d="M551 571.5L885 678" stroke="#000" stroke-width="4" fill="none"/><path d="M520.1 561.3L553.9 563.7L548.2 579.4Z" fill="#000"/>
<g style="font-family:'Liberation Serif','Times New Roman',serif"><text transform="matrix(0.8 0 0 1 154.3 87)" font-size="78.5">1</text><text x="190.7" y="87" font-size="78.5">0</text><text transform="matrix(0.8 0 0 1 230.4 51)" font-size="52.8">1</text></g><g style="font-family:'Liberation Serif','Times New Roman',serif"><text transform="matrix(0.8 0 0 1 154.3 321.4)" font-size="78.5">1</text><text x="190.7" y="321.4" font-size="78.5">0</text><text x="229.2" y="285.4" font-size="52.8">0</text></g><g style="font-family:'Liberation Serif','Times New Roman',serif"><text transform="matrix(0.8 0 0 1 136.3 555.8)" font-size="78.5">1</text><text x="171.9" y="555.8" font-size="78.5">0</text><text x="210.6" y="519.8" font-size="52.8">-</text><text transform="matrix(0.8 0 0 1 230.3 519.8)" font-size="52.8">1</text></g><g style="font-family:'Liberation Serif','Times New Roman',serif"><text transform="matrix(0.8 0 0 1 136.3 790.2)" font-size="78.5">1</text><text x="171.9" y="790.2" font-size="78.5">0</text><text x="210.6" y="754.2" font-size="52.8">-</text><text x="229.2" y="754.2" font-size="52.8">2</text></g><g style="font-family:'Liberation Serif','Times New Roman',serif"><text transform="matrix(0.8 0 0 1 136.3 1024.6)" font-size="78.5">1</text><text x="171.9" y="1024.6" font-size="78.5">0</text><text x="210.6" y="988.6" font-size="52.8">-</text><text x="228.1" y="988.6" font-size="52.8">3</text></g><g style="font-family:'Liberation Serif','Times New Roman',serif"><text transform="matrix(0.8 0 0 1 136.3 1259)" font-size="78.5">1</text><text x="171.9" y="1259" font-size="78.5">0</text><text x="210.6" y="1223" font-size="52.8">-</text><text x="228.7" y="1223" font-size="52.8">4</text></g><g style="font-family:'Liberation Serif','Times New Roman',serif"><text transform="matrix(0.8 0 0 1 223.3 1330.8)" font-size="78.5">1</text><text x="258.6" y="1330.8" font-size="78.5">0</text><text x="297.6" y="1294.9" font-size="52.8">-</text><text x="316.1" y="1294.9" font-size="52.8">2</text></g><g style="font-family:'Liberation Serif','Times New Roman',serif"><text transform="matrix(0.8 0 0 1 754 1330.8)" font-size="78.5">1</text><text x="790.2" y="1330.8" font-size="78.5">0</text><text x="829.4" y="1294.9" font-size="52.8">-</text><text transform="matrix(0.8 0 0 1 849 1294.9)" font-size="52.8">1</text></g><g style="font-family:'Liberation Serif','Times New Roman',serif"><text transform="matrix(0.8 0 0 1 1293.4 1330.8)" font-size="78.5">1</text><text x="1328.7" y="1330.8" font-size="78.5">0</text><text x="1369.3" y="1294.9" font-size="52.8">0</text></g><g style="font-family:'Liberation Serif','Times New Roman',serif"><text transform="matrix(0.8 0 0 1 1824.4 1330.8)" font-size="78.5">1</text><text x="1859.6" y="1330.8" font-size="78.5">0</text><text transform="matrix(0.8 0 0 1 1900.3 1294.9)" font-size="52.8">1</text></g><text x="757.6" y="728.3" font-size="59.0" textLength="469.3" lengthAdjust="spacingAndGlyphs" style="font-family:'Liberation Serif','Times New Roman',serif">Davenport spectrum</text><text x="500.7" y="873.4" font-size="59.0" textLength="264.4" lengthAdjust="spacingAndGlyphs" style="font-family:'Liberation Serif','Times New Roman',serif">Test results</text><text x="293.3" y="1042" font-size="59.0" textLength="407.6" lengthAdjust="spacingAndGlyphs" style="font-family:'Liberation Serif','Times New Roman',serif">Karman spectrum</text><text style="font-family:'Liberation Serif','Times New Roman',serif"><tspan x="1024.3" y="1382.4" font-size="64.3" style="font-style:italic">n</tspan><tspan x="1057.1" y="1382" font-size="63.6" style="font-style:italic">z</tspan><tspan x="1080.7" y="1382.3" font-size="67.3" style="font-style:normal">/</tspan><tspan x="1099.4" y="1381.8" font-size="64.4" style="font-style:italic">u</tspan></text><text transform="rotate(-90)" style="font-family:'Liberation Serif','Times New Roman',serif"><tspan x="-761.5" y="84.8" font-size="59" style="font-style:italic">n</tspan><tspan x="-728.6" y="85.5" font-size="65.6" style="font-style:italic">S</tspan><tspan x="-698" y="108.5" font-size="42.7" style="font-style:italic">u</tspan><tspan x="-675.6" y="85" font-size="63.7" style="font-style:normal">(</tspan><tspan x="-652.8" y="83" font-size="57.3" style="font-style:italic">n</tspan><tspan x="-622.8" y="85" font-size="63.7" style="font-style:normal">)</tspan><tspan x="-601" y="84.8" font-size="82.8" style="font-style:normal">/</tspan><tspan x="-572.7" y="85.3" font-size="50.6" style="font-style:normal;font-family:'DejaVu Serif',serif">σ</tspan><tspan x="-545.2" y="49.5" font-size="46.5" style="font-style:italic">2</tspan></text>
</svg></body></html>
